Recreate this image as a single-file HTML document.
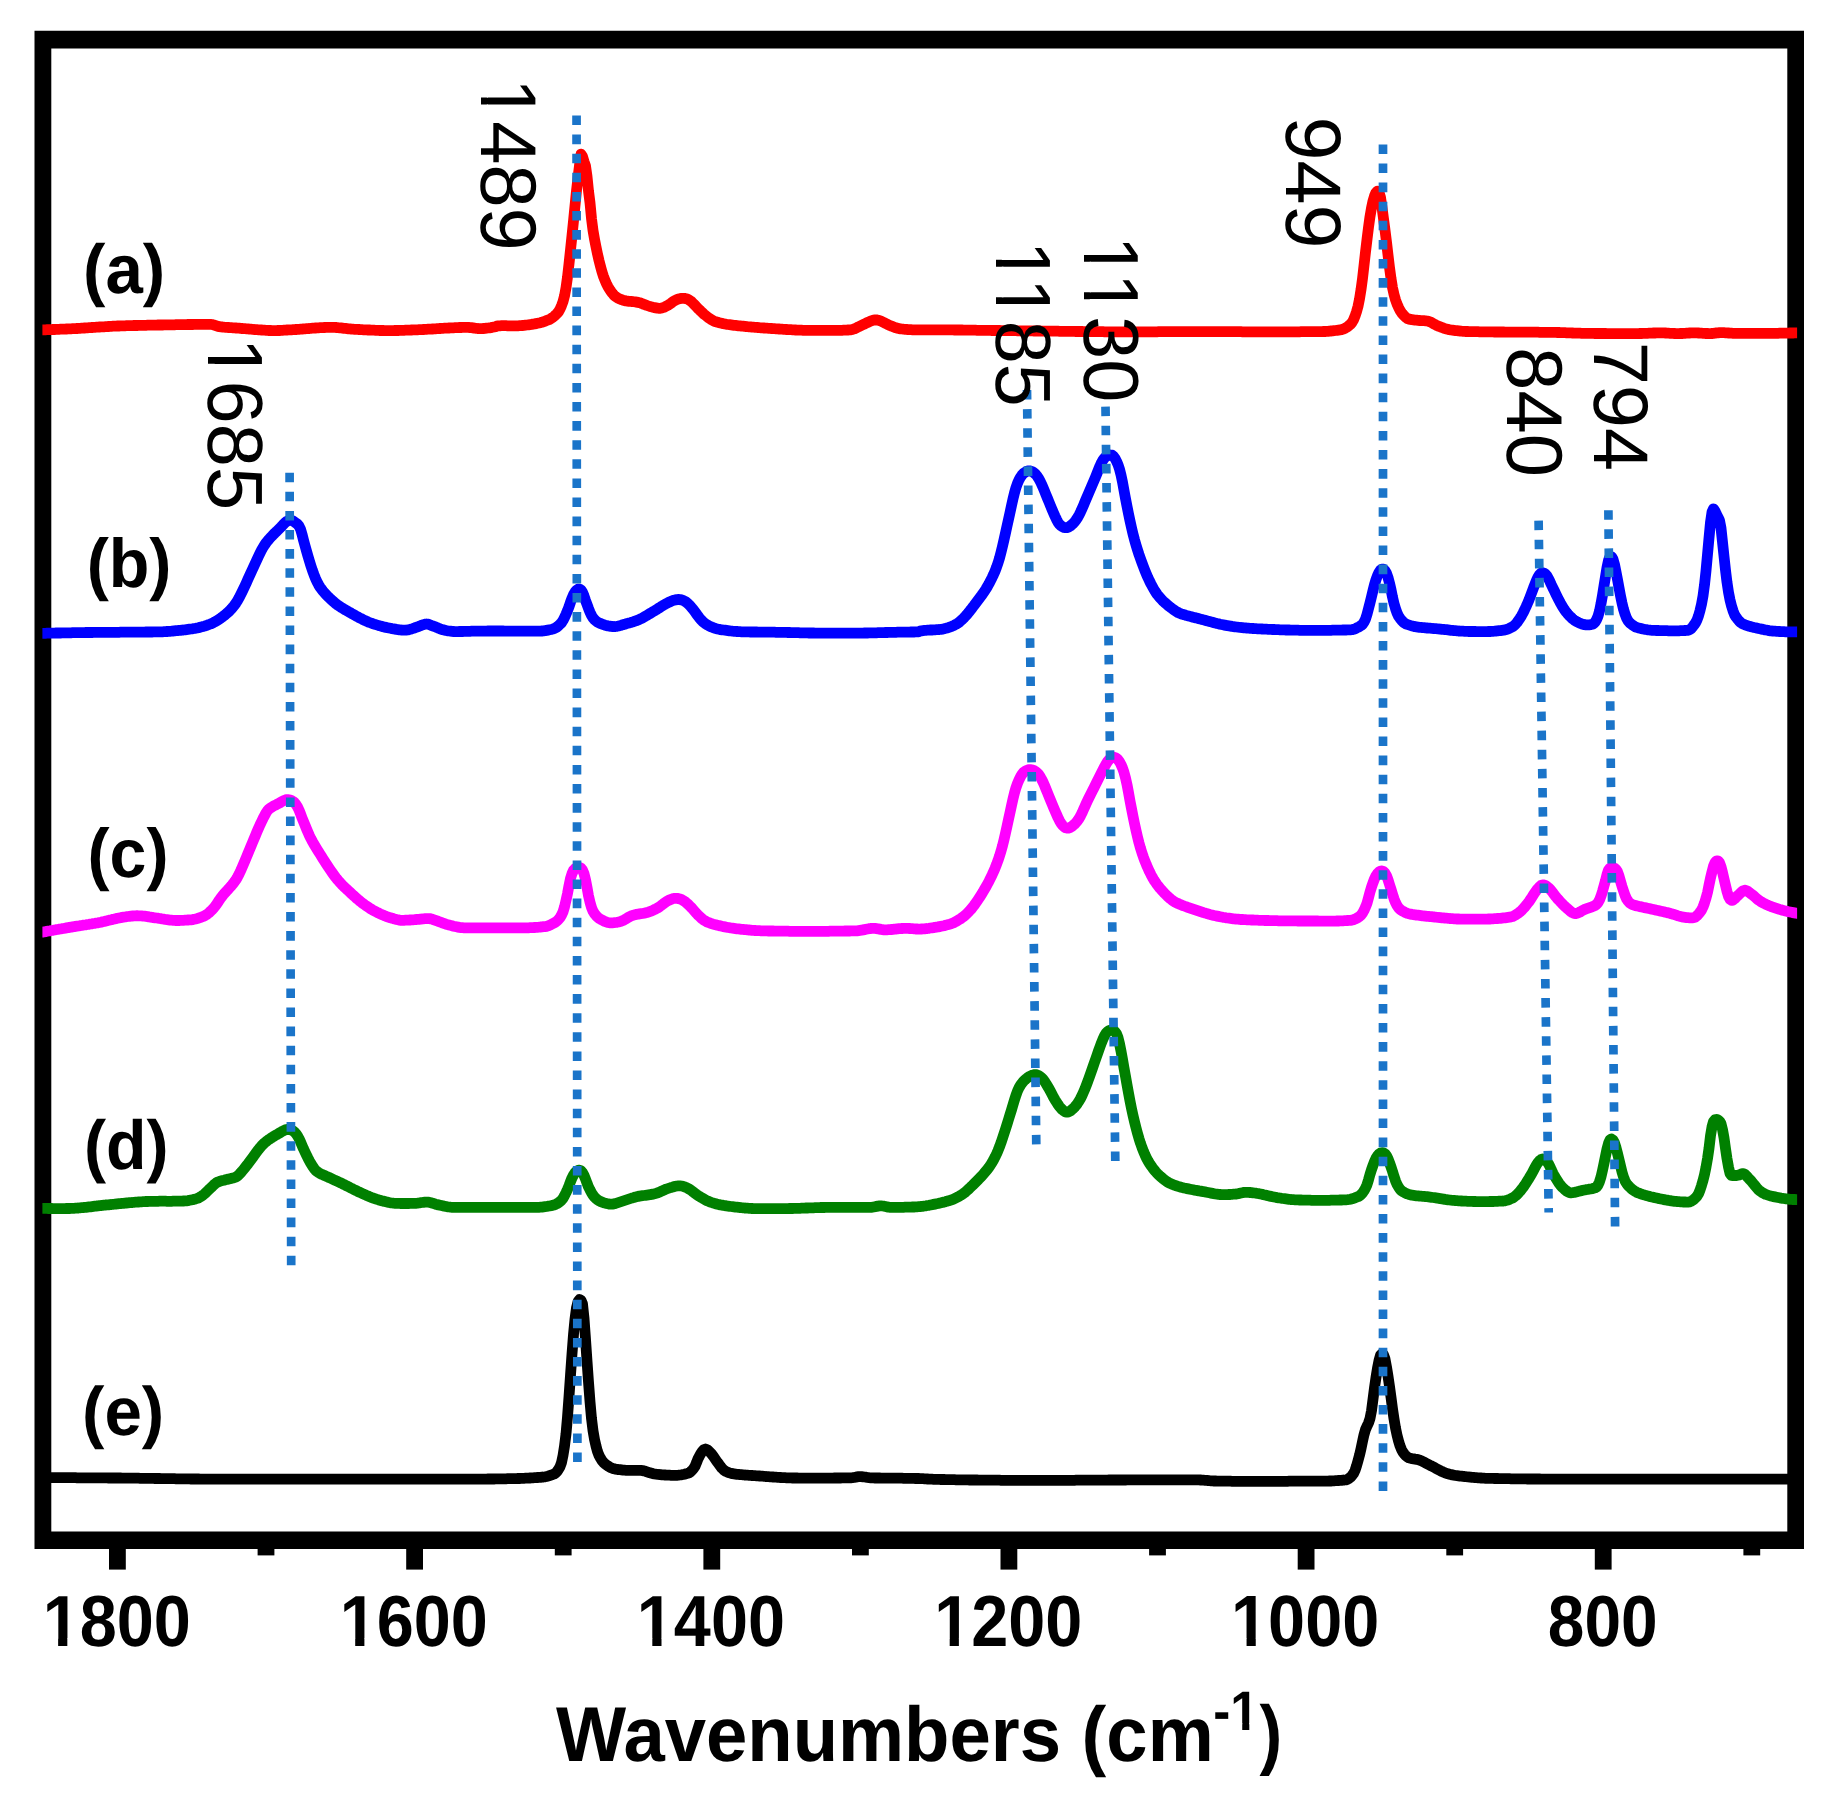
<!DOCTYPE html>
<html lang="en"><head><meta charset="utf-8"><title>Raman spectra</title>
<style>html,body{margin:0;padding:0;background:#fff;}body{width:1837px;height:1808px;overflow:hidden;}svg{display:block;}text{font-family:"Liberation Sans",Arial,Helvetica,sans-serif;fill:#000;}.b{font-weight:bold;}.dot{stroke:#1a74c9;stroke-width:8.7;stroke-dasharray:9.55 9.55;fill:none;}.cv{fill:none;stroke-width:10.8;stroke-linejoin:round;stroke-linecap:butt;}</style></head><body>
<svg width="1837" height="1808" viewBox="0 0 1837 1808">
<rect width="1837" height="1808" fill="#fff"/>
<path fill="#000" fill-rule="evenodd" d="M34.5 30.7H1804.0V1549.0H34.5Z M51.3 48.4V1531.6H1787.3V48.4Z"/>
<rect x="109.0" y="1548" width="16.8" height="21.6" fill="#000"/>
<rect x="257.6" y="1548" width="16.8" height="7.4" fill="#000"/>
<rect x="406.2" y="1548" width="16.8" height="21.6" fill="#000"/>
<rect x="554.8" y="1548" width="16.8" height="7.4" fill="#000"/>
<rect x="703.4" y="1548" width="16.8" height="21.6" fill="#000"/>
<rect x="852.0" y="1548" width="16.8" height="7.4" fill="#000"/>
<rect x="1000.5" y="1548" width="16.8" height="21.6" fill="#000"/>
<rect x="1149.1" y="1548" width="16.8" height="7.4" fill="#000"/>
<rect x="1297.7" y="1548" width="16.8" height="21.6" fill="#000"/>
<rect x="1446.3" y="1548" width="16.8" height="7.4" fill="#000"/>
<rect x="1594.8" y="1548" width="16.8" height="21.6" fill="#000"/>
<rect x="1743.4" y="1548" width="16.8" height="7.4" fill="#000"/>
<clipPath id="cc"><rect x="42.4" y="0" width="1754.7" height="1808"/></clipPath><g clip-path="url(#cc)">
<path class="cv" stroke="#ff0000" d="M36.5 329.8 L42.5 329.8 L44.0 329.8 L45.5 329.8 L47.0 329.7 L48.5 329.7 L50.0 329.6 L51.5 329.6 L53.0 329.5 L54.5 329.5 L56.0 329.4 L57.5 329.4 L59.0 329.3 L60.5 329.2 L62.0 329.2 L63.5 329.1 L65.0 329.1 L66.5 329.0 L68.0 328.9 L69.5 328.9 L71.0 328.8 L72.5 328.7 L74.0 328.7 L75.5 328.6 L77.0 328.5 L78.5 328.4 L80.0 328.3 L81.5 328.2 L83.0 328.1 L84.5 328.0 L86.0 327.9 L87.5 327.8 L89.0 327.7 L90.5 327.6 L92.0 327.5 L93.5 327.4 L95.0 327.3 L96.5 327.2 L98.0 327.1 L99.5 327.0 L101.0 326.9 L102.5 326.8 L104.0 326.8 L105.5 326.7 L107.0 326.6 L108.5 326.5 L110.0 326.4 L111.5 326.3 L113.0 326.2 L114.5 326.2 L116.0 326.1 L117.5 326.0 L119.0 326.0 L120.5 325.9 L122.0 325.9 L123.5 325.8 L125.0 325.8 L126.5 325.7 L128.0 325.7 L129.5 325.6 L131.0 325.6 L132.5 325.6 L134.0 325.5 L135.5 325.5 L137.0 325.5 L138.5 325.4 L140.0 325.4 L141.5 325.4 L143.0 325.3 L144.5 325.3 L146.0 325.3 L147.5 325.2 L149.0 325.2 L150.5 325.2 L152.0 325.2 L153.5 325.1 L155.0 325.1 L156.5 325.1 L158.0 325.0 L159.5 325.0 L161.0 325.0 L162.5 325.0 L164.0 324.9 L165.5 324.9 L167.0 324.9 L168.5 324.9 L170.0 324.8 L171.5 324.8 L173.0 324.8 L174.5 324.8 L176.0 324.7 L177.5 324.7 L179.0 324.7 L180.5 324.7 L182.0 324.6 L183.5 324.6 L185.0 324.6 L186.5 324.6 L188.0 324.5 L189.5 324.5 L191.0 324.5 L192.5 324.5 L194.0 324.4 L195.5 324.4 L197.0 324.4 L198.5 324.4 L200.0 324.4 L201.5 324.4 L203.0 324.4 L204.5 324.3 L206.0 324.3 L207.5 324.3 L209.0 324.3 L210.5 324.3 L212.0 324.5 L213.5 324.9 L215.0 325.4 L216.5 325.9 L218.0 326.4 L219.5 326.7 L221.0 326.9 L222.5 327.0 L224.0 327.2 L225.5 327.3 L227.0 327.4 L228.5 327.5 L230.0 327.6 L231.5 327.7 L233.0 327.8 L234.5 327.9 L236.0 328.0 L237.5 328.1 L239.0 328.2 L240.5 328.4 L242.0 328.5 L243.5 328.6 L245.0 328.7 L246.5 328.8 L248.0 328.9 L249.5 329.1 L251.0 329.2 L252.5 329.3 L254.0 329.5 L255.5 329.6 L257.0 329.7 L258.5 329.8 L260.0 329.9 L261.5 330.0 L263.0 330.1 L264.5 330.2 L266.0 330.3 L267.5 330.4 L269.0 330.5 L270.5 330.5 L272.0 330.6 L273.5 330.6 L275.0 330.6 L276.5 330.6 L278.0 330.5 L279.5 330.5 L281.0 330.4 L282.5 330.3 L284.0 330.2 L285.5 330.1 L287.0 330.0 L288.5 329.9 L290.0 329.9 L291.5 329.8 L293.0 329.7 L294.5 329.6 L296.0 329.5 L297.5 329.4 L299.0 329.3 L300.5 329.2 L302.0 329.1 L303.5 328.9 L305.0 328.8 L306.5 328.7 L308.0 328.6 L309.5 328.5 L311.0 328.3 L312.5 328.2 L314.0 328.1 L315.5 328.0 L317.0 327.9 L318.5 327.8 L320.0 327.7 L321.5 327.6 L323.0 327.6 L324.5 327.5 L326.0 327.4 L327.5 327.4 L329.0 327.4 L330.5 327.3 L332.0 327.3 L333.5 327.4 L335.0 327.4 L336.5 327.5 L338.0 327.7 L339.5 327.8 L341.0 327.9 L342.5 328.1 L344.0 328.3 L345.5 328.4 L347.0 328.6 L348.5 328.8 L350.0 328.9 L351.5 329.1 L353.0 329.2 L354.5 329.3 L356.0 329.4 L357.5 329.4 L359.0 329.5 L360.5 329.6 L362.0 329.7 L363.5 329.8 L365.0 329.8 L366.5 329.9 L368.0 330.0 L369.5 330.0 L371.0 330.1 L372.5 330.2 L374.0 330.2 L375.5 330.3 L377.0 330.4 L378.5 330.4 L380.0 330.5 L381.5 330.5 L383.0 330.5 L384.5 330.6 L386.0 330.6 L387.5 330.6 L389.0 330.6 L390.5 330.6 L392.0 330.6 L393.5 330.6 L395.0 330.5 L396.5 330.5 L398.0 330.5 L399.5 330.4 L401.0 330.4 L402.5 330.3 L404.0 330.3 L405.5 330.2 L407.0 330.2 L408.5 330.1 L410.0 330.1 L411.5 330.0 L413.0 329.9 L414.5 329.9 L416.0 329.8 L417.5 329.8 L419.0 329.7 L420.5 329.6 L422.0 329.6 L423.5 329.5 L425.0 329.4 L426.5 329.3 L428.0 329.2 L429.5 329.2 L431.0 329.1 L432.5 329.0 L434.0 328.9 L435.5 328.8 L437.0 328.7 L438.5 328.6 L440.0 328.5 L441.5 328.4 L443.0 328.3 L444.5 328.2 L446.0 328.2 L447.5 328.1 L449.0 328.0 L450.5 327.9 L452.0 327.8 L453.5 327.8 L455.0 327.7 L456.5 327.6 L458.0 327.6 L459.5 327.5 L461.0 327.5 L462.5 327.4 L464.0 327.4 L465.5 327.3 L467.0 327.3 L468.5 327.4 L470.0 327.6 L471.5 327.7 L473.0 327.9 L474.5 328.2 L476.0 328.3 L477.5 328.5 L479.0 328.6 L480.5 328.6 L482.0 328.6 L483.5 328.5 L485.0 328.4 L486.5 328.2 L488.0 328.0 L489.5 327.8 L491.0 327.6 L492.5 327.3 L494.0 327.0 L495.5 326.7 L497.0 326.1 L498.5 325.8 L500.0 325.8 L501.5 325.7 L503.0 325.7 L504.5 325.7 L506.0 325.7 L507.5 325.8 L509.0 325.8 L510.5 325.8 L512.0 325.9 L513.5 325.9 L515.0 325.9 L516.5 325.9 L518.0 325.8 L519.5 325.7 L521.0 325.6 L522.5 325.5 L524.0 325.4 L525.5 325.2 L527.0 325.0 L528.5 324.8 L530.0 324.6 L531.5 324.4 L533.0 324.1 L534.5 323.9 L536.0 323.6 L537.5 323.3 L539.0 323.0 L540.5 322.7 L542.0 322.2 L543.5 321.8 L545.0 321.2 L546.5 320.6 L548.0 320.0 L549.5 319.4 L551.0 318.6 L552.5 317.6 L554.0 316.4 L555.5 315.0 L557.0 313.5 L558.5 311.7 L560.0 309.1 L561.5 305.7 L563.0 301.7 L564.5 295.9 L566.0 287.8 L567.5 277.0 L569.0 263.8 L570.5 249.9 L572.0 235.6 L573.5 221.0 L575.0 205.7 L576.5 190.7 L578.0 177.9 L579.5 165.4 L581.0 154.1 L582.5 156.4 L584.0 161.5 L585.5 165.7 L587.0 176.3 L588.5 191.0 L590.0 202.8 L591.5 218.6 L593.0 230.4 L594.5 239.1 L596.0 246.8 L597.5 254.0 L599.0 260.5 L600.5 266.4 L602.0 271.9 L603.5 276.5 L605.0 280.4 L606.5 283.8 L608.0 286.7 L609.5 289.2 L611.0 291.4 L612.5 293.4 L614.0 295.2 L615.5 296.6 L617.0 297.6 L618.5 298.4 L620.0 299.1 L621.5 299.7 L623.0 300.2 L624.5 300.6 L626.0 300.9 L627.5 301.1 L629.0 301.3 L630.5 301.4 L632.0 301.5 L633.5 301.7 L635.0 301.8 L636.5 302.1 L638.0 302.4 L639.5 302.7 L641.0 303.2 L642.5 303.8 L644.0 304.4 L645.5 304.9 L647.0 305.5 L648.5 306.0 L650.0 306.5 L651.5 306.9 L653.0 307.3 L654.5 307.6 L656.0 307.9 L657.5 308.2 L659.0 308.3 L660.5 308.3 L662.0 308.0 L663.5 307.5 L665.0 306.8 L666.5 306.0 L668.0 305.2 L669.5 304.2 L671.0 303.2 L672.5 302.0 L674.0 301.0 L675.5 300.2 L677.0 299.6 L678.5 299.0 L680.0 298.6 L681.5 298.4 L683.0 298.3 L684.5 298.4 L686.0 298.7 L687.5 299.2 L689.0 299.9 L690.5 300.9 L692.0 302.2 L693.5 303.7 L695.0 305.3 L696.5 306.9 L698.0 308.5 L699.5 309.9 L701.0 311.4 L702.5 312.8 L704.0 314.2 L705.5 315.4 L707.0 316.6 L708.5 317.8 L710.0 318.8 L711.5 319.8 L713.0 320.6 L714.5 321.3 L716.0 321.8 L717.5 322.2 L719.0 322.7 L720.5 323.0 L722.0 323.4 L723.5 323.7 L725.0 324.0 L726.5 324.3 L728.0 324.5 L729.5 324.7 L731.0 324.9 L732.5 325.1 L734.0 325.3 L735.5 325.4 L737.0 325.6 L738.5 325.8 L740.0 325.9 L741.5 326.1 L743.0 326.2 L744.5 326.4 L746.0 326.5 L747.5 326.7 L749.0 326.8 L750.5 326.9 L752.0 327.1 L753.5 327.2 L755.0 327.3 L756.5 327.4 L758.0 327.5 L759.5 327.7 L761.0 327.8 L762.5 327.9 L764.0 328.0 L765.5 328.1 L767.0 328.2 L768.5 328.3 L770.0 328.4 L771.5 328.5 L773.0 328.6 L774.5 328.7 L776.0 328.8 L777.5 328.9 L779.0 329.0 L780.5 329.1 L782.0 329.2 L783.5 329.3 L785.0 329.4 L786.5 329.5 L788.0 329.6 L789.5 329.7 L791.0 329.7 L792.5 329.8 L794.0 329.9 L795.5 330.0 L797.0 330.1 L798.5 330.1 L800.0 330.2 L801.5 330.2 L803.0 330.3 L804.5 330.3 L806.0 330.3 L807.5 330.4 L809.0 330.4 L810.5 330.4 L812.0 330.4 L813.5 330.4 L815.0 330.4 L816.5 330.4 L818.0 330.4 L819.5 330.4 L821.0 330.4 L822.5 330.4 L824.0 330.4 L825.5 330.4 L827.0 330.4 L828.5 330.3 L830.0 330.3 L831.5 330.3 L833.0 330.3 L834.5 330.3 L836.0 330.3 L837.5 330.3 L839.0 330.3 L840.5 330.3 L842.0 330.3 L843.5 330.2 L845.0 330.2 L846.5 330.1 L848.0 330.0 L849.5 329.9 L851.0 329.8 L852.5 329.5 L854.0 329.0 L855.5 328.3 L857.0 327.6 L858.5 326.8 L860.0 326.1 L861.5 325.4 L863.0 324.7 L864.5 324.0 L866.0 323.2 L867.5 322.5 L869.0 321.8 L870.5 321.1 L872.0 320.6 L873.5 320.1 L875.0 319.9 L876.5 319.9 L878.0 320.2 L879.5 320.7 L881.0 321.2 L882.5 321.9 L884.0 322.6 L885.5 323.4 L887.0 324.1 L888.5 324.9 L890.0 325.6 L891.5 326.2 L893.0 326.7 L894.5 327.3 L896.0 327.8 L897.5 328.2 L899.0 328.6 L900.5 328.8 L902.0 329.0 L903.5 329.2 L905.0 329.3 L906.5 329.4 L908.0 329.6 L909.5 329.7 L911.0 329.7 L912.5 329.8 L914.0 329.8 L915.5 329.8 L917.0 329.8 L918.5 329.8 L920.0 329.8 L921.5 329.8 L923.0 329.8 L924.5 329.8 L926.0 329.8 L927.5 329.8 L929.0 329.8 L930.5 329.8 L932.0 329.8 L933.5 329.8 L935.0 329.8 L936.5 329.8 L938.0 329.8 L939.5 329.8 L941.0 329.8 L942.5 329.9 L944.0 329.9 L945.5 329.9 L947.0 329.9 L948.5 329.9 L950.0 329.9 L951.5 329.9 L953.0 329.9 L954.5 330.0 L956.0 330.0 L957.5 330.0 L959.0 330.0 L960.5 330.0 L962.0 330.0 L963.5 330.1 L965.0 330.1 L966.5 330.1 L968.0 330.1 L969.5 330.2 L971.0 330.2 L972.5 330.2 L974.0 330.2 L975.5 330.2 L977.0 330.3 L978.5 330.3 L980.0 330.3 L981.5 330.3 L983.0 330.3 L984.5 330.4 L986.0 330.4 L987.5 330.4 L989.0 330.4 L990.5 330.4 L992.0 330.5 L993.5 330.5 L995.0 330.5 L996.5 330.5 L998.0 330.5 L999.5 330.5 L1001.0 330.6 L1002.5 330.6 L1004.0 330.6 L1005.5 330.6 L1007.0 330.6 L1008.5 330.7 L1010.0 330.7 L1011.5 330.7 L1013.0 330.7 L1014.5 330.7 L1016.0 330.7 L1017.5 330.8 L1019.0 330.8 L1020.5 330.8 L1022.0 330.8 L1023.5 330.8 L1025.0 330.9 L1026.5 330.9 L1028.0 330.9 L1029.5 330.9 L1031.0 330.9 L1032.5 330.9 L1034.0 331.0 L1035.5 331.0 L1037.0 331.0 L1038.5 331.0 L1040.0 331.0 L1041.5 331.1 L1043.0 331.1 L1044.5 331.1 L1046.0 331.1 L1047.5 331.1 L1049.0 331.1 L1050.5 331.2 L1052.0 331.2 L1053.5 331.2 L1055.0 331.2 L1056.5 331.2 L1058.0 331.2 L1059.5 331.3 L1061.0 331.3 L1062.5 331.3 L1064.0 331.3 L1065.5 331.3 L1067.0 331.4 L1068.5 331.4 L1070.0 331.4 L1071.5 331.4 L1073.0 331.4 L1074.5 331.4 L1076.0 331.5 L1077.5 331.5 L1079.0 331.5 L1080.5 331.5 L1082.0 331.5 L1083.5 331.6 L1085.0 331.6 L1086.5 331.6 L1088.0 331.6 L1089.5 331.6 L1091.0 331.6 L1092.5 331.6 L1094.0 331.7 L1095.5 331.7 L1097.0 331.7 L1098.5 331.7 L1100.0 331.7 L1101.5 331.7 L1103.0 331.7 L1104.5 331.8 L1106.0 331.8 L1107.5 331.8 L1109.0 331.8 L1110.5 331.8 L1112.0 331.8 L1113.5 331.8 L1115.0 331.8 L1116.5 331.8 L1118.0 331.8 L1119.5 331.8 L1121.0 331.8 L1122.5 331.9 L1124.0 331.9 L1125.5 331.9 L1127.0 331.9 L1128.5 331.9 L1130.0 331.9 L1131.5 331.9 L1133.0 331.9 L1134.5 331.9 L1136.0 331.9 L1137.5 331.8 L1139.0 331.8 L1140.5 331.8 L1142.0 331.8 L1143.5 331.8 L1145.0 331.8 L1146.5 331.8 L1148.0 331.8 L1149.5 331.8 L1151.0 331.8 L1152.5 331.8 L1154.0 331.8 L1155.5 331.8 L1157.0 331.8 L1158.5 331.7 L1160.0 331.7 L1161.5 331.7 L1163.0 331.7 L1164.5 331.7 L1166.0 331.7 L1167.5 331.7 L1169.0 331.7 L1170.5 331.7 L1172.0 331.7 L1173.5 331.7 L1175.0 331.7 L1176.5 331.6 L1178.0 331.6 L1179.5 331.6 L1181.0 331.6 L1182.5 331.6 L1184.0 331.6 L1185.5 331.6 L1187.0 331.6 L1188.5 331.6 L1190.0 331.6 L1191.5 331.6 L1193.0 331.6 L1194.5 331.6 L1196.0 331.6 L1197.5 331.6 L1199.0 331.6 L1200.5 331.6 L1202.0 331.6 L1203.5 331.6 L1205.0 331.6 L1206.5 331.6 L1208.0 331.6 L1209.5 331.6 L1211.0 331.6 L1212.5 331.6 L1214.0 331.6 L1215.5 331.6 L1217.0 331.6 L1218.5 331.6 L1220.0 331.7 L1221.5 331.7 L1223.0 331.7 L1224.5 331.7 L1226.0 331.7 L1227.5 331.7 L1229.0 331.7 L1230.5 331.7 L1232.0 331.7 L1233.5 331.7 L1235.0 331.7 L1236.5 331.7 L1238.0 331.7 L1239.5 331.7 L1241.0 331.7 L1242.5 331.8 L1244.0 331.8 L1245.5 331.8 L1247.0 331.8 L1248.5 331.8 L1250.0 331.8 L1251.5 331.8 L1253.0 331.8 L1254.5 331.8 L1256.0 331.8 L1257.5 331.8 L1259.0 331.8 L1260.5 331.8 L1262.0 331.8 L1263.5 331.8 L1265.0 331.8 L1266.5 331.8 L1268.0 331.8 L1269.5 331.8 L1271.0 331.8 L1272.5 331.8 L1274.0 331.8 L1275.5 331.8 L1277.0 331.8 L1278.5 331.8 L1280.0 331.8 L1281.5 331.8 L1283.0 331.8 L1284.5 331.8 L1286.0 331.8 L1287.5 331.8 L1289.0 331.8 L1290.5 331.8 L1292.0 331.8 L1293.5 331.8 L1295.0 331.8 L1296.5 331.8 L1298.0 331.8 L1299.5 331.8 L1301.0 331.7 L1302.5 331.7 L1304.0 331.7 L1305.5 331.7 L1307.0 331.7 L1308.5 331.7 L1310.0 331.7 L1311.5 331.7 L1313.0 331.7 L1314.5 331.6 L1316.0 331.6 L1317.5 331.6 L1319.0 331.6 L1320.5 331.6 L1322.0 331.6 L1323.5 331.5 L1325.0 331.5 L1326.5 331.4 L1328.0 331.3 L1329.5 331.1 L1331.0 331.0 L1332.5 330.9 L1334.0 330.7 L1335.5 330.5 L1337.0 330.3 L1338.5 330.1 L1340.0 329.9 L1341.5 329.7 L1343.0 329.2 L1344.5 328.6 L1346.0 327.7 L1347.5 326.7 L1349.0 325.5 L1350.5 324.3 L1352.0 322.5 L1353.5 319.8 L1355.0 316.2 L1356.5 311.8 L1358.0 306.4 L1359.5 299.0 L1361.0 289.7 L1362.5 278.6 L1364.0 265.5 L1365.5 252.1 L1367.0 239.5 L1368.5 227.4 L1370.0 216.6 L1371.5 207.8 L1373.0 201.0 L1374.5 196.0 L1376.0 192.5 L1377.5 191.2 L1379.0 192.3 L1380.5 197.3 L1382.0 207.3 L1383.5 218.6 L1385.0 230.0 L1386.5 241.9 L1388.0 254.8 L1389.5 267.4 L1391.0 278.4 L1392.5 287.6 L1394.0 294.4 L1395.5 299.8 L1397.0 304.0 L1398.5 307.3 L1400.0 310.3 L1401.5 312.7 L1403.0 314.5 L1404.5 316.1 L1406.0 317.5 L1407.5 318.6 L1409.0 319.1 L1410.5 319.4 L1412.0 319.7 L1413.5 319.9 L1415.0 320.1 L1416.5 320.2 L1418.0 320.4 L1419.5 320.5 L1421.0 320.6 L1422.5 320.6 L1424.0 320.7 L1425.5 320.8 L1427.0 321.0 L1428.5 321.3 L1430.0 321.8 L1431.5 322.6 L1433.0 323.4 L1434.5 324.3 L1436.0 325.1 L1437.5 325.8 L1439.0 326.4 L1440.5 326.9 L1442.0 327.5 L1443.5 328.1 L1445.0 328.6 L1446.5 329.0 L1448.0 329.4 L1449.5 329.7 L1451.0 330.0 L1452.5 330.2 L1454.0 330.4 L1455.5 330.6 L1457.0 330.7 L1458.5 330.9 L1460.0 331.0 L1461.5 331.2 L1463.0 331.3 L1464.5 331.4 L1466.0 331.5 L1467.5 331.5 L1469.0 331.6 L1470.5 331.6 L1472.0 331.6 L1473.5 331.7 L1475.0 331.7 L1476.5 331.7 L1478.0 331.7 L1479.5 331.8 L1481.0 331.8 L1482.5 331.8 L1484.0 331.8 L1485.5 331.8 L1487.0 331.9 L1488.5 331.9 L1490.0 331.9 L1491.5 331.9 L1493.0 331.9 L1494.5 332.0 L1496.0 332.0 L1497.5 332.0 L1499.0 332.0 L1500.5 332.0 L1502.0 332.0 L1503.5 332.0 L1505.0 332.1 L1506.5 332.1 L1508.0 332.1 L1509.5 332.1 L1511.0 332.1 L1512.5 332.1 L1514.0 332.1 L1515.5 332.1 L1517.0 332.1 L1518.5 332.2 L1520.0 332.2 L1521.5 332.2 L1523.0 332.2 L1524.5 332.2 L1526.0 332.2 L1527.5 332.2 L1529.0 332.2 L1530.5 332.2 L1532.0 332.2 L1533.5 332.2 L1535.0 332.2 L1536.5 332.2 L1538.0 332.2 L1539.5 332.3 L1541.0 332.3 L1542.5 332.3 L1544.0 332.3 L1545.5 332.3 L1547.0 332.3 L1548.5 332.3 L1550.0 332.3 L1551.5 332.4 L1553.0 332.4 L1554.5 332.4 L1556.0 332.4 L1557.5 332.5 L1559.0 332.5 L1560.5 332.6 L1562.0 332.6 L1563.5 332.7 L1565.0 332.7 L1566.5 332.8 L1568.0 332.8 L1569.5 332.9 L1571.0 332.9 L1572.5 333.0 L1574.0 333.1 L1575.5 333.1 L1577.0 333.2 L1578.5 333.2 L1580.0 333.2 L1581.5 333.3 L1583.0 333.3 L1584.5 333.3 L1586.0 333.4 L1587.5 333.4 L1589.0 333.4 L1590.5 333.4 L1592.0 333.4 L1593.5 333.4 L1595.0 333.5 L1596.5 333.5 L1598.0 333.5 L1599.5 333.5 L1601.0 333.5 L1602.5 333.5 L1604.0 333.5 L1605.5 333.5 L1607.0 333.6 L1608.5 333.6 L1610.0 333.6 L1611.5 333.6 L1613.0 333.6 L1614.5 333.6 L1616.0 333.6 L1617.5 333.6 L1619.0 333.6 L1620.5 333.6 L1622.0 333.6 L1623.5 333.6 L1625.0 333.6 L1626.5 333.6 L1628.0 333.6 L1629.5 333.6 L1631.0 333.6 L1632.5 333.6 L1634.0 333.6 L1635.5 333.6 L1637.0 333.6 L1638.5 333.6 L1640.0 333.5 L1641.5 333.5 L1643.0 333.4 L1644.5 333.4 L1646.0 333.3 L1647.5 333.3 L1649.0 333.2 L1650.5 333.1 L1652.0 333.1 L1653.5 333.0 L1655.0 333.0 L1656.5 332.9 L1658.0 332.9 L1659.5 332.9 L1661.0 332.8 L1662.5 332.9 L1664.0 332.9 L1665.5 333.0 L1667.0 333.1 L1668.5 333.2 L1670.0 333.3 L1671.5 333.4 L1673.0 333.4 L1674.5 333.5 L1676.0 333.6 L1677.5 333.6 L1679.0 333.6 L1680.5 333.5 L1682.0 333.5 L1683.5 333.4 L1685.0 333.3 L1686.5 333.2 L1688.0 333.1 L1689.5 333.0 L1691.0 332.9 L1692.5 332.9 L1694.0 332.8 L1695.5 332.9 L1697.0 332.9 L1698.5 333.0 L1700.0 333.1 L1701.5 333.2 L1703.0 333.3 L1704.5 333.4 L1706.0 333.5 L1707.5 333.5 L1709.0 333.6 L1710.5 333.6 L1712.0 333.5 L1713.5 333.4 L1715.0 333.2 L1716.5 332.9 L1718.0 332.8 L1719.5 332.6 L1721.0 332.6 L1722.5 332.6 L1724.0 332.7 L1725.5 332.8 L1727.0 332.9 L1728.5 333.0 L1730.0 333.1 L1731.5 333.2 L1733.0 333.3 L1734.5 333.3 L1736.0 333.3 L1737.5 333.4 L1739.0 333.4 L1740.5 333.4 L1742.0 333.4 L1743.5 333.4 L1745.0 333.4 L1746.5 333.4 L1748.0 333.4 L1749.5 333.4 L1751.0 333.4 L1752.5 333.4 L1754.0 333.4 L1755.5 333.4 L1757.0 333.4 L1758.5 333.4 L1760.0 333.4 L1761.5 333.4 L1763.0 333.4 L1764.5 333.4 L1766.0 333.4 L1767.5 333.4 L1769.0 333.3 L1770.5 333.3 L1772.0 333.3 L1773.5 333.3 L1775.0 333.3 L1776.5 333.3 L1778.0 333.3 L1779.5 333.2 L1781.0 333.2 L1782.5 333.2 L1784.0 333.2 L1785.5 333.1 L1787.0 333.1 L1788.5 333.1 L1790.0 333.0 L1791.5 333.0 L1793.0 333.0 L1794.5 332.9 L1796.0 332.9 L1797.0 332.8 L1803.0 332.8"/>
<path class="cv" stroke="#0000ff" d="M36.5 633.3 L42.5 633.3 L44.0 633.3 L45.5 633.3 L47.0 633.2 L48.5 633.2 L50.0 633.2 L51.5 633.1 L53.0 633.1 L54.5 633.1 L56.0 633.0 L57.5 633.0 L59.0 633.0 L60.5 633.0 L62.0 632.9 L63.5 632.9 L65.0 632.9 L66.5 632.8 L68.0 632.8 L69.5 632.8 L71.0 632.8 L72.5 632.7 L74.0 632.7 L75.5 632.7 L77.0 632.7 L78.5 632.6 L80.0 632.6 L81.5 632.6 L83.0 632.6 L84.5 632.6 L86.0 632.5 L87.5 632.5 L89.0 632.5 L90.5 632.5 L92.0 632.5 L93.5 632.4 L95.0 632.4 L96.5 632.4 L98.0 632.4 L99.5 632.4 L101.0 632.4 L102.5 632.4 L104.0 632.3 L105.5 632.3 L107.0 632.3 L108.5 632.3 L110.0 632.3 L111.5 632.3 L113.0 632.3 L114.5 632.3 L116.0 632.3 L117.5 632.3 L119.0 632.3 L120.5 632.2 L122.0 632.2 L123.5 632.2 L125.0 632.2 L126.5 632.2 L128.0 632.2 L129.5 632.2 L131.0 632.2 L132.5 632.2 L134.0 632.2 L135.5 632.1 L137.0 632.1 L138.5 632.1 L140.0 632.1 L141.5 632.1 L143.0 632.1 L144.5 632.1 L146.0 632.0 L147.5 632.0 L149.0 632.0 L150.5 632.0 L152.0 632.0 L153.5 631.9 L155.0 631.9 L156.5 631.9 L158.0 631.9 L159.5 631.8 L161.0 631.8 L162.5 631.8 L164.0 631.7 L165.5 631.6 L167.0 631.5 L168.5 631.4 L170.0 631.3 L171.5 631.2 L173.0 631.0 L174.5 630.9 L176.0 630.7 L177.5 630.6 L179.0 630.4 L180.5 630.3 L182.0 630.1 L183.5 630.0 L185.0 629.8 L186.5 629.6 L188.0 629.4 L189.5 629.2 L191.0 629.0 L192.5 628.8 L194.0 628.5 L195.5 628.3 L197.0 628.0 L198.5 627.7 L200.0 627.3 L201.5 626.9 L203.0 626.5 L204.5 626.1 L206.0 625.6 L207.5 625.1 L209.0 624.5 L210.5 624.0 L212.0 623.3 L213.5 622.6 L215.0 621.8 L216.5 620.9 L218.0 619.9 L219.5 618.9 L221.0 617.9 L222.5 616.8 L224.0 615.7 L225.5 614.5 L227.0 613.2 L228.5 611.9 L230.0 610.4 L231.5 608.8 L233.0 607.0 L234.5 605.1 L236.0 603.0 L237.5 600.6 L239.0 597.9 L240.5 595.0 L242.0 592.0 L243.5 588.9 L245.0 585.7 L246.5 582.4 L248.0 579.1 L249.5 575.8 L251.0 572.5 L252.5 569.3 L254.0 566.0 L255.5 562.8 L257.0 559.5 L258.5 556.3 L260.0 553.2 L261.5 550.2 L263.0 547.5 L264.5 545.1 L266.0 542.9 L267.5 541.0 L269.0 539.2 L270.5 537.5 L272.0 536.0 L273.5 534.4 L275.0 532.9 L276.5 531.5 L278.0 530.0 L279.5 528.5 L281.0 527.0 L282.5 525.4 L284.0 523.8 L285.5 522.3 L287.0 521.2 L288.5 520.4 L290.0 520.1 L291.5 520.3 L293.0 521.0 L294.5 522.0 L296.0 523.1 L297.5 524.2 L299.0 526.0 L300.5 529.1 L302.0 534.2 L303.5 540.1 L305.0 545.6 L306.5 551.0 L308.0 556.2 L309.5 561.3 L311.0 566.1 L312.5 570.6 L314.0 574.7 L315.5 578.4 L317.0 581.7 L318.5 584.6 L320.0 587.1 L321.5 589.2 L323.0 591.1 L324.5 592.9 L326.0 594.5 L327.5 596.1 L329.0 597.5 L330.5 599.0 L332.0 600.4 L333.5 601.7 L335.0 603.0 L336.5 604.2 L338.0 605.3 L339.5 606.3 L341.0 607.3 L342.5 608.2 L344.0 609.1 L345.5 610.0 L347.0 610.8 L348.5 611.7 L350.0 612.5 L351.5 613.4 L353.0 614.2 L354.5 615.1 L356.0 615.9 L357.5 616.7 L359.0 617.6 L360.5 618.3 L362.0 619.1 L363.5 619.9 L365.0 620.6 L366.5 621.2 L368.0 621.9 L369.5 622.5 L371.0 623.0 L372.5 623.6 L374.0 624.1 L375.5 624.5 L377.0 625.0 L378.5 625.5 L380.0 625.9 L381.5 626.3 L383.0 626.7 L384.5 627.1 L386.0 627.4 L387.5 627.7 L389.0 628.0 L390.5 628.3 L392.0 628.6 L393.5 628.8 L395.0 629.1 L396.5 629.4 L398.0 629.6 L399.5 629.8 L401.0 630.0 L402.5 630.1 L404.0 630.1 L405.5 630.1 L407.0 630.0 L408.5 629.8 L410.0 629.4 L411.5 629.0 L413.0 628.5 L414.5 627.9 L416.0 627.3 L417.5 626.8 L419.0 626.3 L420.5 625.7 L422.0 625.1 L423.5 624.6 L425.0 624.2 L426.5 624.0 L428.0 624.2 L429.5 624.7 L431.0 625.3 L432.5 625.8 L434.0 626.4 L435.5 626.9 L437.0 627.6 L438.5 628.2 L440.0 628.8 L441.5 629.3 L443.0 629.8 L444.5 630.1 L446.0 630.5 L447.5 630.8 L449.0 631.0 L450.5 631.2 L452.0 631.4 L453.5 631.5 L455.0 631.6 L456.5 631.6 L458.0 631.6 L459.5 631.5 L461.0 631.5 L462.5 631.5 L464.0 631.4 L465.5 631.4 L467.0 631.4 L468.5 631.3 L470.0 631.3 L471.5 631.2 L473.0 631.2 L474.5 631.2 L476.0 631.1 L477.5 631.1 L479.0 631.1 L480.5 631.1 L482.0 631.1 L483.5 631.1 L485.0 631.1 L486.5 631.1 L488.0 631.0 L489.5 631.0 L491.0 631.0 L492.5 631.0 L494.0 631.0 L495.5 631.0 L497.0 631.0 L498.5 631.0 L500.0 631.0 L501.5 631.0 L503.0 631.0 L504.5 631.1 L506.0 631.1 L507.5 631.1 L509.0 631.1 L510.5 631.1 L512.0 631.1 L513.5 631.1 L515.0 631.1 L516.5 631.1 L518.0 631.1 L519.5 631.1 L521.0 631.1 L522.5 631.1 L524.0 631.1 L525.5 631.1 L527.0 631.1 L528.5 631.1 L530.0 631.1 L531.5 631.1 L533.0 631.1 L534.5 631.1 L536.0 631.1 L537.5 631.1 L539.0 631.1 L540.5 631.1 L542.0 631.0 L543.5 630.9 L545.0 630.7 L546.5 630.4 L548.0 630.1 L549.5 629.8 L551.0 629.5 L552.5 629.1 L554.0 628.6 L555.5 627.9 L557.0 627.0 L558.5 625.8 L560.0 624.3 L561.5 622.7 L563.0 620.4 L564.5 617.5 L566.0 614.2 L567.5 610.6 L569.0 606.7 L570.5 602.2 L572.0 598.1 L573.5 594.7 L575.0 592.0 L576.5 590.2 L578.0 589.2 L579.5 589.1 L581.0 589.9 L582.5 592.2 L584.0 595.9 L585.5 600.3 L587.0 604.3 L588.5 608.4 L590.0 612.2 L591.5 615.4 L593.0 617.8 L594.5 619.7 L596.0 621.0 L597.5 622.1 L599.0 622.8 L600.5 623.5 L602.0 624.2 L603.5 624.7 L605.0 625.2 L606.5 625.6 L608.0 625.9 L609.5 626.1 L611.0 626.4 L612.5 626.5 L614.0 626.6 L615.5 626.5 L617.0 626.3 L618.5 626.0 L620.0 625.6 L621.5 625.2 L623.0 624.7 L624.5 624.3 L626.0 623.8 L627.5 623.4 L629.0 623.0 L630.5 622.6 L632.0 622.1 L633.5 621.7 L635.0 621.2 L636.5 620.7 L638.0 620.1 L639.5 619.4 L641.0 618.7 L642.5 617.9 L644.0 617.1 L645.5 616.2 L647.0 615.3 L648.5 614.4 L650.0 613.5 L651.5 612.6 L653.0 611.7 L654.5 610.8 L656.0 609.9 L657.5 608.9 L659.0 608.0 L660.5 607.1 L662.0 606.1 L663.5 605.2 L665.0 604.3 L666.5 603.5 L668.0 602.7 L669.5 602.0 L671.0 601.3 L672.5 600.7 L674.0 600.2 L675.5 599.9 L677.0 599.6 L678.5 599.5 L680.0 599.6 L681.5 599.9 L683.0 600.4 L684.5 601.1 L686.0 602.0 L687.5 603.2 L689.0 604.6 L690.5 606.3 L692.0 608.1 L693.5 609.8 L695.0 611.9 L696.5 614.0 L698.0 616.1 L699.5 618.1 L701.0 619.7 L702.5 621.3 L704.0 622.6 L705.5 623.8 L707.0 624.8 L708.5 625.6 L710.0 626.3 L711.5 627.0 L713.0 627.6 L714.5 628.1 L716.0 628.6 L717.5 629.0 L719.0 629.3 L720.5 629.6 L722.0 629.8 L723.5 630.0 L725.0 630.2 L726.5 630.4 L728.0 630.6 L729.5 630.8 L731.0 631.0 L732.5 631.2 L734.0 631.3 L735.5 631.4 L737.0 631.5 L738.5 631.6 L740.0 631.7 L741.5 631.8 L743.0 631.8 L744.5 631.9 L746.0 631.9 L747.5 631.9 L749.0 631.9 L750.5 632.0 L752.0 632.0 L753.5 632.0 L755.0 632.0 L756.5 632.0 L758.0 632.1 L759.5 632.1 L761.0 632.1 L762.5 632.1 L764.0 632.1 L765.5 632.1 L767.0 632.1 L768.5 632.2 L770.0 632.2 L771.5 632.2 L773.0 632.2 L774.5 632.2 L776.0 632.3 L777.5 632.3 L779.0 632.3 L780.5 632.3 L782.0 632.4 L783.5 632.4 L785.0 632.4 L786.5 632.4 L788.0 632.5 L789.5 632.5 L791.0 632.6 L792.5 632.6 L794.0 632.6 L795.5 632.7 L797.0 632.7 L798.5 632.7 L800.0 632.8 L801.5 632.8 L803.0 632.8 L804.5 632.9 L806.0 632.9 L807.5 632.9 L809.0 633.0 L810.5 633.0 L812.0 633.0 L813.5 633.0 L815.0 633.1 L816.5 633.1 L818.0 633.1 L819.5 633.1 L821.0 633.1 L822.5 633.1 L824.0 633.1 L825.5 633.1 L827.0 633.1 L828.5 633.1 L830.0 633.2 L831.5 633.2 L833.0 633.2 L834.5 633.2 L836.0 633.2 L837.5 633.2 L839.0 633.2 L840.5 633.2 L842.0 633.2 L843.5 633.2 L845.0 633.2 L846.5 633.2 L848.0 633.2 L849.5 633.2 L851.0 633.2 L852.5 633.1 L854.0 633.1 L855.5 633.1 L857.0 633.1 L858.5 633.1 L860.0 633.1 L861.5 633.1 L863.0 633.1 L864.5 633.0 L866.0 633.0 L867.5 633.0 L869.0 632.9 L870.5 632.9 L872.0 632.9 L873.5 632.8 L875.0 632.8 L876.5 632.8 L878.0 632.7 L879.5 632.7 L881.0 632.6 L882.5 632.6 L884.0 632.6 L885.5 632.5 L887.0 632.5 L888.5 632.4 L890.0 632.4 L891.5 632.4 L893.0 632.3 L894.5 632.3 L896.0 632.3 L897.5 632.2 L899.0 632.2 L900.5 632.2 L902.0 632.2 L903.5 632.2 L905.0 632.1 L906.5 632.1 L908.0 632.1 L909.5 632.1 L911.0 632.0 L912.5 632.0 L914.0 632.0 L915.5 631.9 L917.0 631.9 L918.5 631.8 L920.0 631.1 L921.5 630.8 L923.0 630.6 L924.5 630.4 L926.0 630.3 L927.5 630.2 L929.0 630.1 L930.5 630.0 L932.0 630.0 L933.5 629.9 L935.0 629.8 L936.5 629.7 L938.0 629.6 L939.5 629.5 L941.0 629.3 L942.5 629.1 L944.0 628.8 L945.5 628.4 L947.0 628.0 L948.5 627.6 L950.0 627.0 L951.5 626.4 L953.0 625.8 L954.5 625.1 L956.0 624.3 L957.5 623.4 L959.0 622.3 L960.5 621.0 L962.0 619.7 L963.5 618.2 L965.0 616.6 L966.5 615.0 L968.0 613.2 L969.5 611.3 L971.0 609.4 L972.5 607.4 L974.0 605.5 L975.5 603.5 L977.0 601.5 L978.5 599.5 L980.0 597.5 L981.5 595.5 L983.0 593.4 L984.5 591.2 L986.0 588.9 L987.5 586.4 L989.0 583.7 L990.5 580.8 L992.0 577.8 L993.5 574.6 L995.0 571.2 L996.5 567.3 L998.0 563.0 L999.5 558.1 L1001.0 552.4 L1002.5 546.2 L1004.0 539.7 L1005.5 533.0 L1007.0 526.2 L1008.5 519.4 L1010.0 512.6 L1011.5 505.6 L1013.0 498.9 L1014.5 492.7 L1016.0 487.5 L1017.5 483.3 L1019.0 479.9 L1020.5 477.2 L1022.0 475.0 L1023.5 473.4 L1025.0 472.3 L1026.5 471.4 L1028.0 470.9 L1029.5 470.8 L1031.0 471.2 L1032.5 471.8 L1034.0 472.8 L1035.5 474.1 L1037.0 475.9 L1038.5 478.2 L1040.0 480.9 L1041.5 484.0 L1043.0 487.4 L1044.5 491.0 L1046.0 494.7 L1047.5 498.4 L1049.0 502.0 L1050.5 505.7 L1052.0 509.3 L1053.5 512.8 L1055.0 516.2 L1056.5 519.4 L1058.0 522.3 L1059.5 524.4 L1061.0 525.8 L1062.5 526.8 L1064.0 527.4 L1065.5 527.7 L1067.0 527.6 L1068.5 527.1 L1070.0 526.2 L1071.5 525.0 L1073.0 523.7 L1074.5 522.0 L1076.0 520.0 L1077.5 517.7 L1079.0 515.1 L1080.5 512.1 L1082.0 508.8 L1083.5 505.3 L1085.0 501.7 L1086.5 498.1 L1088.0 494.6 L1089.5 491.1 L1091.0 487.6 L1092.5 484.1 L1094.0 480.6 L1095.5 477.1 L1097.0 473.4 L1098.5 469.6 L1100.0 465.9 L1101.5 462.6 L1103.0 460.0 L1104.5 458.0 L1106.0 456.7 L1107.5 455.8 L1109.0 455.2 L1110.5 455.0 L1112.0 455.2 L1113.5 456.3 L1115.0 458.4 L1116.5 461.2 L1118.0 464.6 L1119.5 469.2 L1121.0 475.0 L1122.5 482.1 L1124.0 490.4 L1125.5 498.5 L1127.0 506.2 L1128.5 513.7 L1130.0 520.9 L1131.5 527.6 L1133.0 533.9 L1134.5 539.7 L1136.0 544.9 L1137.5 549.8 L1139.0 554.5 L1140.5 558.8 L1142.0 562.9 L1143.5 566.9 L1145.0 570.7 L1146.5 574.3 L1148.0 577.8 L1149.5 581.0 L1151.0 584.0 L1152.5 586.8 L1154.0 589.5 L1155.5 591.9 L1157.0 594.1 L1158.5 596.0 L1160.0 597.8 L1161.5 599.4 L1163.0 601.0 L1164.5 602.4 L1166.0 603.7 L1167.5 605.0 L1169.0 606.2 L1170.5 607.4 L1172.0 608.5 L1173.5 609.6 L1175.0 610.7 L1176.5 611.6 L1178.0 612.5 L1179.5 613.2 L1181.0 613.8 L1182.5 614.3 L1184.0 614.7 L1185.5 615.2 L1187.0 615.6 L1188.5 616.0 L1190.0 616.4 L1191.5 616.8 L1193.0 617.2 L1194.5 617.6 L1196.0 617.9 L1197.5 618.3 L1199.0 618.7 L1200.5 619.1 L1202.0 619.5 L1203.5 619.9 L1205.0 620.3 L1206.5 620.7 L1208.0 621.1 L1209.5 621.5 L1211.0 621.9 L1212.5 622.3 L1214.0 622.7 L1215.5 623.1 L1217.0 623.5 L1218.5 623.8 L1220.0 624.2 L1221.5 624.5 L1223.0 624.8 L1224.5 625.1 L1226.0 625.4 L1227.5 625.7 L1229.0 625.9 L1230.5 626.1 L1232.0 626.4 L1233.5 626.6 L1235.0 626.8 L1236.5 627.0 L1238.0 627.2 L1239.5 627.3 L1241.0 627.5 L1242.5 627.6 L1244.0 627.8 L1245.5 627.9 L1247.0 628.1 L1248.5 628.2 L1250.0 628.3 L1251.5 628.4 L1253.0 628.5 L1254.5 628.6 L1256.0 628.7 L1257.5 628.8 L1259.0 628.9 L1260.5 628.9 L1262.0 629.0 L1263.5 629.1 L1265.0 629.2 L1266.5 629.2 L1268.0 629.3 L1269.5 629.4 L1271.0 629.4 L1272.5 629.5 L1274.0 629.5 L1275.5 629.6 L1277.0 629.7 L1278.5 629.7 L1280.0 629.8 L1281.5 629.8 L1283.0 629.9 L1284.5 629.9 L1286.0 630.0 L1287.5 630.0 L1289.0 630.0 L1290.5 630.1 L1292.0 630.1 L1293.5 630.2 L1295.0 630.2 L1296.5 630.2 L1298.0 630.2 L1299.5 630.3 L1301.0 630.3 L1302.5 630.3 L1304.0 630.3 L1305.5 630.4 L1307.0 630.4 L1308.5 630.4 L1310.0 630.4 L1311.5 630.4 L1313.0 630.4 L1314.5 630.4 L1316.0 630.4 L1317.5 630.4 L1319.0 630.4 L1320.5 630.4 L1322.0 630.4 L1323.5 630.3 L1325.0 630.3 L1326.5 630.3 L1328.0 630.3 L1329.5 630.3 L1331.0 630.3 L1332.5 630.2 L1334.0 630.2 L1335.5 630.2 L1337.0 630.2 L1338.5 630.1 L1340.0 630.1 L1341.5 630.1 L1343.0 630.0 L1344.5 630.0 L1346.0 630.0 L1347.5 629.9 L1349.0 629.9 L1350.5 629.8 L1352.0 629.7 L1353.5 629.3 L1355.0 628.8 L1356.5 628.1 L1358.0 627.3 L1359.5 626.6 L1361.0 625.6 L1362.5 624.3 L1364.0 622.2 L1365.5 619.1 L1367.0 614.4 L1368.5 608.7 L1370.0 602.8 L1371.5 596.8 L1373.0 590.5 L1374.5 584.6 L1376.0 579.6 L1377.5 575.5 L1379.0 572.3 L1380.5 570.2 L1382.0 569.1 L1383.5 569.2 L1385.0 570.6 L1386.5 573.2 L1388.0 577.5 L1389.5 583.1 L1391.0 589.5 L1392.5 597.1 L1394.0 603.5 L1395.5 608.6 L1397.0 612.9 L1398.5 616.1 L1400.0 618.3 L1401.5 620.2 L1403.0 621.8 L1404.5 623.1 L1406.0 623.9 L1407.5 624.5 L1409.0 625.0 L1410.5 625.5 L1412.0 626.0 L1413.5 626.3 L1415.0 626.7 L1416.5 626.9 L1418.0 627.1 L1419.5 627.3 L1421.0 627.4 L1422.5 627.6 L1424.0 627.7 L1425.5 627.9 L1427.0 628.0 L1428.5 628.1 L1430.0 628.2 L1431.5 628.3 L1433.0 628.5 L1434.5 628.6 L1436.0 628.7 L1437.5 628.8 L1439.0 629.0 L1440.5 629.1 L1442.0 629.3 L1443.5 629.4 L1445.0 629.6 L1446.5 629.7 L1448.0 629.9 L1449.5 630.1 L1451.0 630.3 L1452.5 630.4 L1454.0 630.6 L1455.5 630.7 L1457.0 630.8 L1458.5 631.0 L1460.0 631.1 L1461.5 631.2 L1463.0 631.2 L1464.5 631.3 L1466.0 631.4 L1467.5 631.4 L1469.0 631.5 L1470.5 631.5 L1472.0 631.5 L1473.5 631.5 L1475.0 631.5 L1476.5 631.6 L1478.0 631.6 L1479.5 631.6 L1481.0 631.6 L1482.5 631.6 L1484.0 631.6 L1485.5 631.6 L1487.0 631.6 L1488.5 631.5 L1490.0 631.5 L1491.5 631.4 L1493.0 631.3 L1494.5 631.2 L1496.0 631.0 L1497.5 630.9 L1499.0 630.7 L1500.5 630.6 L1502.0 630.4 L1503.5 630.2 L1505.0 629.9 L1506.5 629.5 L1508.0 628.9 L1509.5 628.3 L1511.0 627.5 L1512.5 626.7 L1514.0 625.7 L1515.5 624.2 L1517.0 622.5 L1518.5 620.4 L1520.0 618.2 L1521.5 615.8 L1523.0 613.0 L1524.5 610.0 L1526.0 606.8 L1527.5 603.4 L1529.0 599.8 L1530.5 595.8 L1532.0 591.8 L1533.5 587.8 L1535.0 584.1 L1536.5 580.3 L1538.0 577.0 L1539.5 574.6 L1541.0 573.2 L1542.5 572.7 L1544.0 573.1 L1545.5 574.2 L1547.0 576.0 L1548.5 578.6 L1550.0 581.7 L1551.5 585.0 L1553.0 588.1 L1554.5 591.2 L1556.0 594.3 L1557.5 597.3 L1559.0 600.3 L1560.5 603.1 L1562.0 605.7 L1563.5 608.2 L1565.0 610.4 L1566.5 612.4 L1568.0 614.2 L1569.5 615.9 L1571.0 617.3 L1572.5 618.7 L1574.0 619.9 L1575.5 620.9 L1577.0 621.8 L1578.5 622.6 L1580.0 623.2 L1581.5 623.8 L1583.0 624.3 L1584.5 624.7 L1586.0 624.9 L1587.5 624.9 L1589.0 624.8 L1590.5 624.6 L1592.0 624.3 L1593.5 623.8 L1595.0 622.3 L1596.5 619.7 L1598.0 616.3 L1599.5 611.0 L1601.0 603.7 L1602.5 595.2 L1604.0 585.8 L1605.5 576.5 L1607.0 567.4 L1608.5 560.3 L1610.0 556.7 L1611.5 556.7 L1613.0 559.1 L1614.5 564.4 L1616.0 571.8 L1617.5 579.6 L1619.0 587.8 L1620.5 595.7 L1622.0 602.9 L1623.5 609.2 L1625.0 614.1 L1626.5 617.9 L1628.0 620.8 L1629.5 622.6 L1631.0 623.9 L1632.5 625.1 L1634.0 626.1 L1635.5 626.9 L1637.0 627.5 L1638.5 628.0 L1640.0 628.3 L1641.5 628.6 L1643.0 629.0 L1644.5 629.3 L1646.0 629.5 L1647.5 629.8 L1649.0 630.0 L1650.5 630.2 L1652.0 630.3 L1653.5 630.3 L1655.0 630.4 L1656.5 630.5 L1658.0 630.5 L1659.5 630.6 L1661.0 630.6 L1662.5 630.7 L1664.0 630.7 L1665.5 630.7 L1667.0 630.7 L1668.5 630.8 L1670.0 630.8 L1671.5 630.8 L1673.0 630.8 L1674.5 630.8 L1676.0 630.8 L1677.5 630.8 L1679.0 630.8 L1680.5 630.7 L1682.0 630.7 L1683.5 630.6 L1685.0 630.5 L1686.5 630.4 L1688.0 630.3 L1689.5 629.9 L1691.0 628.7 L1692.5 627.1 L1694.0 625.1 L1695.5 622.9 L1697.0 620.0 L1698.5 615.9 L1700.0 610.6 L1701.5 604.2 L1703.0 596.0 L1704.5 584.8 L1706.0 570.9 L1707.5 554.4 L1709.0 538.0 L1710.5 522.3 L1712.0 512.1 L1713.5 508.8 L1715.0 511.0 L1716.5 514.4 L1718.0 517.2 L1719.5 520.3 L1721.0 528.0 L1722.5 542.1 L1724.0 556.2 L1725.5 570.1 L1727.0 582.3 L1728.5 592.2 L1730.0 599.9 L1731.5 605.8 L1733.0 610.7 L1734.5 614.6 L1736.0 617.1 L1737.5 619.1 L1739.0 620.9 L1740.5 622.4 L1742.0 623.5 L1743.5 624.2 L1745.0 624.8 L1746.5 625.3 L1748.0 625.8 L1749.5 626.3 L1751.0 626.7 L1752.5 627.1 L1754.0 627.5 L1755.5 627.8 L1757.0 628.1 L1758.5 628.5 L1760.0 628.8 L1761.5 629.1 L1763.0 629.4 L1764.5 629.8 L1766.0 630.0 L1767.5 630.3 L1769.0 630.6 L1770.5 630.8 L1772.0 631.0 L1773.5 631.1 L1775.0 631.2 L1776.5 631.3 L1778.0 631.4 L1779.5 631.5 L1781.0 631.6 L1782.5 631.7 L1784.0 631.7 L1785.5 631.8 L1787.0 631.8 L1788.5 631.9 L1790.0 631.9 L1791.5 631.9 L1793.0 631.9 L1794.5 631.9 L1796.0 631.8 L1797.0 631.8 L1803.0 631.8"/>
<path class="cv" stroke="#ff00ff" d="M36.5 932.1 L42.5 932.1 L44.0 931.8 L45.5 931.6 L47.0 931.3 L48.5 931.0 L50.0 930.8 L51.5 930.5 L53.0 930.3 L54.5 930.0 L56.0 929.7 L57.5 929.5 L59.0 929.2 L60.5 929.0 L62.0 928.7 L63.5 928.5 L65.0 928.2 L66.5 927.9 L68.0 927.7 L69.5 927.4 L71.0 927.2 L72.5 926.9 L74.0 926.7 L75.5 926.4 L77.0 926.2 L78.5 926.0 L80.0 925.7 L81.5 925.5 L83.0 925.2 L84.5 925.0 L86.0 924.8 L87.5 924.5 L89.0 924.3 L90.5 924.0 L92.0 923.8 L93.5 923.5 L95.0 923.3 L96.5 923.0 L98.0 922.8 L99.5 922.5 L101.0 922.2 L102.5 921.8 L104.0 921.5 L105.5 921.1 L107.0 920.8 L108.5 920.4 L110.0 920.0 L111.5 919.7 L113.0 919.3 L114.5 919.0 L116.0 918.6 L117.5 918.3 L119.0 918.0 L120.5 917.7 L122.0 917.4 L123.5 917.2 L125.0 917.0 L126.5 916.7 L128.0 916.5 L129.5 916.3 L131.0 916.1 L132.5 916.0 L134.0 915.9 L135.5 915.8 L137.0 915.7 L138.5 915.8 L140.0 915.8 L141.5 915.9 L143.0 916.1 L144.5 916.2 L146.0 916.4 L147.5 916.6 L149.0 916.9 L150.5 917.1 L152.0 917.3 L153.5 917.6 L155.0 917.8 L156.5 918.0 L158.0 918.2 L159.5 918.5 L161.0 918.7 L162.5 919.0 L164.0 919.2 L165.5 919.5 L167.0 919.7 L168.5 919.9 L170.0 920.1 L171.5 920.2 L173.0 920.3 L174.5 920.4 L176.0 920.5 L177.5 920.5 L179.0 920.5 L180.5 920.4 L182.0 920.4 L183.5 920.3 L185.0 920.2 L186.5 920.1 L188.0 920.0 L189.5 919.9 L191.0 919.8 L192.5 919.6 L194.0 919.3 L195.5 919.0 L197.0 918.6 L198.5 918.1 L200.0 917.6 L201.5 917.1 L203.0 916.5 L204.5 915.8 L206.0 914.9 L207.5 913.9 L209.0 912.7 L210.5 911.3 L212.0 909.9 L213.5 908.2 L215.0 906.4 L216.5 904.3 L218.0 902.1 L219.5 899.8 L221.0 897.7 L222.5 895.7 L224.0 893.9 L225.5 892.2 L227.0 890.6 L228.5 889.0 L230.0 887.3 L231.5 885.6 L233.0 883.8 L234.5 881.8 L236.0 879.6 L237.5 877.1 L239.0 874.2 L240.5 871.0 L242.0 867.6 L243.5 864.1 L245.0 860.6 L246.5 857.0 L248.0 853.4 L249.5 849.7 L251.0 846.1 L252.5 842.5 L254.0 838.9 L255.5 835.3 L257.0 831.7 L258.5 828.3 L260.0 824.9 L261.5 821.7 L263.0 818.6 L264.5 815.7 L266.0 812.9 L267.5 810.6 L269.0 809.0 L270.5 807.9 L272.0 806.9 L273.5 806.1 L275.0 805.3 L276.5 804.6 L278.0 803.8 L279.5 803.0 L281.0 802.1 L282.5 801.3 L284.0 800.5 L285.5 799.9 L287.0 799.6 L288.5 799.6 L290.0 800.0 L291.5 800.6 L293.0 801.4 L294.5 802.7 L296.0 804.5 L297.5 806.9 L299.0 810.0 L300.5 813.8 L302.0 817.8 L303.5 821.6 L305.0 825.2 L306.5 828.9 L308.0 832.4 L309.5 835.8 L311.0 838.8 L312.5 841.6 L314.0 844.2 L315.5 846.7 L317.0 849.2 L318.5 851.6 L320.0 854.0 L321.5 856.4 L323.0 858.8 L324.5 861.2 L326.0 863.5 L327.5 865.8 L329.0 868.0 L330.5 870.2 L332.0 872.4 L333.5 874.5 L335.0 876.6 L336.5 878.5 L338.0 880.3 L339.5 882.0 L341.0 883.6 L342.5 885.2 L344.0 886.7 L345.5 888.1 L347.0 889.5 L348.5 890.9 L350.0 892.3 L351.5 893.7 L353.0 895.1 L354.5 896.4 L356.0 897.8 L357.5 899.1 L359.0 900.3 L360.5 901.6 L362.0 902.8 L363.5 903.9 L365.0 905.0 L366.5 906.1 L368.0 907.1 L369.5 908.1 L371.0 909.0 L372.5 909.9 L374.0 910.7 L375.5 911.5 L377.0 912.3 L378.5 913.0 L380.0 913.8 L381.5 914.4 L383.0 915.1 L384.5 915.7 L386.0 916.3 L387.5 916.8 L389.0 917.3 L390.5 917.8 L392.0 918.2 L393.5 918.7 L395.0 919.1 L396.5 919.5 L398.0 919.8 L399.5 920.1 L401.0 920.3 L402.5 920.3 L404.0 920.3 L405.5 920.2 L407.0 920.2 L408.5 920.1 L410.0 920.0 L411.5 919.9 L413.0 919.8 L414.5 919.7 L416.0 919.5 L417.5 919.4 L419.0 919.3 L420.5 919.1 L422.0 919.0 L423.5 918.8 L425.0 918.7 L426.5 918.6 L428.0 918.6 L429.5 918.6 L431.0 918.9 L432.5 919.3 L434.0 919.8 L435.5 920.3 L437.0 920.8 L438.5 921.4 L440.0 922.0 L441.5 922.6 L443.0 923.2 L444.5 923.7 L446.0 924.2 L447.5 924.6 L449.0 925.0 L450.5 925.4 L452.0 925.8 L453.5 926.2 L455.0 926.5 L456.5 926.8 L458.0 927.1 L459.5 927.4 L461.0 927.6 L462.5 927.7 L464.0 927.8 L465.5 927.8 L467.0 927.8 L468.5 927.8 L470.0 927.8 L471.5 927.8 L473.0 927.8 L474.5 927.8 L476.0 927.8 L477.5 927.8 L479.0 927.8 L480.5 927.8 L482.0 927.8 L483.5 927.8 L485.0 927.8 L486.5 927.8 L488.0 927.8 L489.5 927.8 L491.0 927.8 L492.5 927.8 L494.0 927.8 L495.5 927.8 L497.0 927.8 L498.5 927.8 L500.0 927.8 L501.5 927.8 L503.0 927.8 L504.5 927.8 L506.0 927.8 L507.5 927.8 L509.0 927.8 L510.5 927.8 L512.0 927.8 L513.5 927.8 L515.0 927.8 L516.5 927.8 L518.0 927.8 L519.5 927.8 L521.0 927.8 L522.5 927.8 L524.0 927.8 L525.5 927.8 L527.0 927.8 L528.5 927.8 L530.0 927.7 L531.5 927.7 L533.0 927.6 L534.5 927.5 L536.0 927.4 L537.5 927.3 L539.0 927.2 L540.5 927.0 L542.0 926.9 L543.5 926.7 L545.0 926.6 L546.5 926.4 L548.0 925.9 L549.5 925.3 L551.0 924.6 L552.5 923.8 L554.0 923.0 L555.5 922.1 L557.0 921.0 L558.5 919.5 L560.0 917.6 L561.5 915.1 L563.0 911.9 L564.5 906.9 L566.0 900.4 L567.5 893.6 L569.0 885.5 L570.5 878.3 L572.0 873.6 L573.5 870.4 L575.0 868.7 L576.5 867.8 L578.0 867.3 L579.5 867.3 L581.0 868.2 L582.5 870.0 L584.0 873.6 L585.5 879.5 L587.0 887.3 L588.5 895.8 L590.0 902.2 L591.5 907.5 L593.0 911.2 L594.5 913.6 L596.0 915.5 L597.5 917.1 L599.0 918.3 L600.5 919.2 L602.0 920.0 L603.5 920.8 L605.0 921.5 L606.5 922.1 L608.0 922.5 L609.5 922.8 L611.0 922.8 L612.5 922.8 L614.0 922.7 L615.5 922.5 L617.0 922.3 L618.5 922.0 L620.0 921.6 L621.5 921.1 L623.0 920.5 L624.5 919.7 L626.0 918.8 L627.5 917.9 L629.0 917.0 L630.5 916.2 L632.0 915.6 L633.5 915.1 L635.0 914.7 L636.5 914.4 L638.0 914.2 L639.5 913.9 L641.0 913.7 L642.5 913.5 L644.0 913.2 L645.5 912.9 L647.0 912.5 L648.5 912.1 L650.0 911.5 L651.5 910.9 L653.0 910.3 L654.5 909.5 L656.0 908.8 L657.5 908.0 L659.0 907.1 L660.5 906.0 L662.0 904.9 L663.5 903.7 L665.0 902.6 L666.5 901.5 L668.0 900.7 L669.5 900.0 L671.0 899.3 L672.5 898.8 L674.0 898.4 L675.5 898.3 L677.0 898.3 L678.5 898.6 L680.0 899.0 L681.5 899.6 L683.0 900.4 L684.5 901.3 L686.0 902.5 L687.5 903.8 L689.0 905.2 L690.5 906.7 L692.0 908.3 L693.5 910.0 L695.0 911.7 L696.5 913.4 L698.0 915.0 L699.5 916.4 L701.0 917.8 L702.5 919.1 L704.0 920.3 L705.5 921.1 L707.0 921.9 L708.5 922.5 L710.0 923.1 L711.5 923.6 L713.0 924.1 L714.5 924.5 L716.0 924.9 L717.5 925.2 L719.0 925.6 L720.5 925.9 L722.0 926.3 L723.5 926.6 L725.0 926.9 L726.5 927.2 L728.0 927.5 L729.5 927.7 L731.0 928.0 L732.5 928.2 L734.0 928.4 L735.5 928.6 L737.0 928.8 L738.5 928.9 L740.0 929.1 L741.5 929.3 L743.0 929.4 L744.5 929.6 L746.0 929.7 L747.5 929.9 L749.0 930.0 L750.5 930.1 L752.0 930.3 L753.5 930.4 L755.0 930.5 L756.5 930.6 L758.0 930.7 L759.5 930.7 L761.0 930.8 L762.5 930.8 L764.0 930.9 L765.5 930.9 L767.0 930.9 L768.5 931.0 L770.0 931.0 L771.5 931.0 L773.0 931.0 L774.5 931.1 L776.0 931.1 L777.5 931.1 L779.0 931.1 L780.5 931.2 L782.0 931.2 L783.5 931.2 L785.0 931.2 L786.5 931.2 L788.0 931.2 L789.5 931.3 L791.0 931.3 L792.5 931.3 L794.0 931.3 L795.5 931.3 L797.0 931.3 L798.5 931.3 L800.0 931.3 L801.5 931.3 L803.0 931.3 L804.5 931.3 L806.0 931.3 L807.5 931.3 L809.0 931.3 L810.5 931.3 L812.0 931.3 L813.5 931.3 L815.0 931.3 L816.5 931.3 L818.0 931.3 L819.5 931.3 L821.0 931.3 L822.5 931.3 L824.0 931.3 L825.5 931.3 L827.0 931.3 L828.5 931.3 L830.0 931.2 L831.5 931.2 L833.0 931.2 L834.5 931.2 L836.0 931.2 L837.5 931.2 L839.0 931.1 L840.5 931.1 L842.0 931.1 L843.5 931.1 L845.0 931.0 L846.5 931.0 L848.0 931.0 L849.5 931.0 L851.0 930.9 L852.5 930.9 L854.0 930.9 L855.5 930.8 L857.0 930.8 L858.5 930.6 L860.0 930.4 L861.5 930.2 L863.0 929.9 L864.5 929.6 L866.0 929.3 L867.5 929.0 L869.0 928.7 L870.5 928.5 L872.0 928.4 L873.5 928.3 L875.0 928.4 L876.5 928.6 L878.0 928.8 L879.5 929.1 L881.0 929.4 L882.5 929.6 L884.0 929.8 L885.5 929.8 L887.0 929.8 L888.5 929.7 L890.0 929.6 L891.5 929.5 L893.0 929.4 L894.5 929.2 L896.0 929.0 L897.5 928.9 L899.0 928.7 L900.5 928.6 L902.0 928.5 L903.5 928.4 L905.0 928.3 L906.5 928.3 L908.0 928.4 L909.5 928.5 L911.0 928.6 L912.5 928.7 L914.0 928.8 L915.5 929.0 L917.0 929.0 L918.5 929.1 L920.0 929.1 L921.5 929.0 L923.0 928.9 L924.5 928.8 L926.0 928.6 L927.5 928.5 L929.0 928.3 L930.5 928.0 L932.0 927.8 L933.5 927.6 L935.0 927.3 L936.5 927.1 L938.0 926.9 L939.5 926.6 L941.0 926.3 L942.5 926.0 L944.0 925.7 L945.5 925.3 L947.0 924.9 L948.5 924.5 L950.0 924.1 L951.5 923.6 L953.0 923.0 L954.5 922.3 L956.0 921.5 L957.5 920.6 L959.0 919.7 L960.5 918.8 L962.0 917.7 L963.5 916.6 L965.0 915.3 L966.5 914.0 L968.0 912.5 L969.5 910.9 L971.0 909.3 L972.5 907.4 L974.0 905.5 L975.5 903.4 L977.0 901.2 L978.5 899.0 L980.0 896.7 L981.5 894.3 L983.0 891.9 L984.5 889.3 L986.0 886.7 L987.5 884.0 L989.0 881.2 L990.5 878.2 L992.0 875.1 L993.5 871.8 L995.0 868.3 L996.5 864.5 L998.0 860.4 L999.5 856.0 L1001.0 851.1 L1002.5 845.7 L1004.0 839.7 L1005.5 833.1 L1007.0 826.3 L1008.5 819.4 L1010.0 812.6 L1011.5 805.6 L1013.0 798.9 L1014.5 792.8 L1016.0 787.6 L1017.5 783.4 L1019.0 779.9 L1020.5 776.8 L1022.0 774.3 L1023.5 772.4 L1025.0 771.3 L1026.5 770.5 L1028.0 769.9 L1029.5 769.6 L1031.0 769.6 L1032.5 770.0 L1034.0 770.6 L1035.5 771.4 L1037.0 772.6 L1038.5 774.2 L1040.0 776.3 L1041.5 779.0 L1043.0 782.0 L1044.5 785.4 L1046.0 789.1 L1047.5 792.8 L1049.0 796.5 L1050.5 800.1 L1052.0 803.8 L1053.5 807.4 L1055.0 810.9 L1056.5 814.3 L1058.0 817.7 L1059.5 820.7 L1061.0 823.2 L1062.5 825.2 L1064.0 826.7 L1065.5 827.7 L1067.0 828.1 L1068.5 828.1 L1070.0 827.6 L1071.5 826.7 L1073.0 825.5 L1074.5 824.2 L1076.0 822.6 L1077.5 820.8 L1079.0 818.6 L1080.5 816.0 L1082.0 812.9 L1083.5 809.6 L1085.0 806.2 L1086.5 802.8 L1088.0 799.7 L1089.5 796.6 L1091.0 793.6 L1092.5 790.6 L1094.0 787.7 L1095.5 784.7 L1097.0 781.6 L1098.5 778.6 L1100.0 775.6 L1101.5 772.6 L1103.0 769.7 L1104.5 766.8 L1106.0 764.1 L1107.5 761.7 L1109.0 759.8 L1110.5 758.3 L1112.0 757.3 L1113.5 757.0 L1115.0 757.5 L1116.5 758.4 L1118.0 759.7 L1119.5 761.7 L1121.0 764.5 L1122.5 768.0 L1124.0 772.3 L1125.5 777.8 L1127.0 784.6 L1128.5 792.6 L1130.0 800.9 L1131.5 808.6 L1133.0 816.2 L1134.5 823.5 L1136.0 830.4 L1137.5 836.9 L1139.0 842.9 L1140.5 848.2 L1142.0 853.0 L1143.5 857.3 L1145.0 861.3 L1146.5 865.0 L1148.0 868.4 L1149.5 871.7 L1151.0 874.7 L1152.5 877.5 L1154.0 880.1 L1155.5 882.3 L1157.0 884.5 L1158.5 886.4 L1160.0 888.3 L1161.5 890.0 L1163.0 891.6 L1164.5 893.2 L1166.0 894.7 L1167.5 896.2 L1169.0 897.6 L1170.5 898.9 L1172.0 900.1 L1173.5 901.2 L1175.0 902.1 L1176.5 902.8 L1178.0 903.5 L1179.5 904.2 L1181.0 904.8 L1182.5 905.4 L1184.0 906.0 L1185.5 906.5 L1187.0 907.1 L1188.5 907.6 L1190.0 908.1 L1191.5 908.6 L1193.0 909.1 L1194.5 909.6 L1196.0 910.1 L1197.5 910.6 L1199.0 911.1 L1200.5 911.6 L1202.0 912.1 L1203.5 912.6 L1205.0 913.0 L1206.5 913.5 L1208.0 913.9 L1209.5 914.4 L1211.0 914.8 L1212.5 915.1 L1214.0 915.5 L1215.5 915.8 L1217.0 916.1 L1218.5 916.4 L1220.0 916.7 L1221.5 917.0 L1223.0 917.3 L1224.5 917.5 L1226.0 917.8 L1227.5 918.0 L1229.0 918.2 L1230.5 918.4 L1232.0 918.6 L1233.5 918.8 L1235.0 919.0 L1236.5 919.1 L1238.0 919.2 L1239.5 919.4 L1241.0 919.5 L1242.5 919.5 L1244.0 919.6 L1245.5 919.7 L1247.0 919.8 L1248.5 919.8 L1250.0 919.9 L1251.5 920.0 L1253.0 920.0 L1254.5 920.1 L1256.0 920.1 L1257.5 920.2 L1259.0 920.3 L1260.5 920.3 L1262.0 920.4 L1263.5 920.4 L1265.0 920.5 L1266.5 920.5 L1268.0 920.5 L1269.5 920.6 L1271.0 920.6 L1272.5 920.6 L1274.0 920.7 L1275.5 920.7 L1277.0 920.7 L1278.5 920.8 L1280.0 920.8 L1281.5 920.8 L1283.0 920.8 L1284.5 920.8 L1286.0 920.9 L1287.5 920.9 L1289.0 920.9 L1290.5 920.9 L1292.0 920.9 L1293.5 920.9 L1295.0 920.9 L1296.5 920.9 L1298.0 921.0 L1299.5 921.0 L1301.0 921.0 L1302.5 921.0 L1304.0 921.0 L1305.5 921.0 L1307.0 921.0 L1308.5 921.0 L1310.0 921.0 L1311.5 921.0 L1313.0 921.0 L1314.5 921.0 L1316.0 921.0 L1317.5 921.0 L1319.0 921.1 L1320.5 921.1 L1322.0 921.1 L1323.5 921.1 L1325.0 921.1 L1326.5 921.1 L1328.0 921.1 L1329.5 921.1 L1331.0 921.1 L1332.5 921.1 L1334.0 921.1 L1335.5 921.1 L1337.0 921.0 L1338.5 921.0 L1340.0 920.9 L1341.5 920.9 L1343.0 920.8 L1344.5 920.7 L1346.0 920.6 L1347.5 920.5 L1349.0 920.4 L1350.5 920.3 L1352.0 920.1 L1353.5 919.7 L1355.0 919.1 L1356.5 918.4 L1358.0 917.5 L1359.5 916.5 L1361.0 915.2 L1362.5 913.1 L1364.0 910.4 L1365.5 907.1 L1367.0 903.2 L1368.5 897.8 L1370.0 892.0 L1371.5 887.1 L1373.0 882.7 L1374.5 878.8 L1376.0 875.7 L1377.5 873.5 L1379.0 872.0 L1380.5 871.1 L1382.0 871.0 L1383.5 871.6 L1385.0 873.1 L1386.5 875.7 L1388.0 879.7 L1389.5 884.5 L1391.0 889.2 L1392.5 894.0 L1394.0 898.7 L1395.5 902.6 L1397.0 905.5 L1398.5 907.7 L1400.0 909.3 L1401.5 910.4 L1403.0 911.3 L1404.5 912.1 L1406.0 912.8 L1407.5 913.4 L1409.0 913.8 L1410.5 914.1 L1412.0 914.4 L1413.5 914.6 L1415.0 914.8 L1416.5 915.1 L1418.0 915.2 L1419.5 915.4 L1421.0 915.6 L1422.5 915.8 L1424.0 916.0 L1425.5 916.1 L1427.0 916.3 L1428.5 916.4 L1430.0 916.6 L1431.5 916.7 L1433.0 916.9 L1434.5 917.0 L1436.0 917.2 L1437.5 917.3 L1439.0 917.5 L1440.5 917.6 L1442.0 917.8 L1443.5 917.9 L1445.0 918.1 L1446.5 918.2 L1448.0 918.3 L1449.5 918.5 L1451.0 918.6 L1452.5 918.7 L1454.0 918.8 L1455.5 918.9 L1457.0 919.0 L1458.5 919.0 L1460.0 919.1 L1461.5 919.1 L1463.0 919.1 L1464.5 919.2 L1466.0 919.2 L1467.5 919.2 L1469.0 919.2 L1470.5 919.2 L1472.0 919.2 L1473.5 919.2 L1475.0 919.2 L1476.5 919.2 L1478.0 919.1 L1479.5 919.1 L1481.0 919.1 L1482.5 919.1 L1484.0 919.1 L1485.5 919.1 L1487.0 919.1 L1488.5 919.0 L1490.0 919.0 L1491.5 918.9 L1493.0 918.8 L1494.5 918.7 L1496.0 918.6 L1497.5 918.5 L1499.0 918.4 L1500.5 918.3 L1502.0 918.1 L1503.5 917.9 L1505.0 917.8 L1506.5 917.6 L1508.0 917.4 L1509.5 917.2 L1511.0 916.9 L1512.5 916.5 L1514.0 915.8 L1515.5 915.0 L1517.0 914.0 L1518.5 913.0 L1520.0 911.8 L1521.5 910.5 L1523.0 908.9 L1524.5 907.3 L1526.0 905.4 L1527.5 903.5 L1529.0 901.6 L1530.5 899.4 L1532.0 897.1 L1533.5 894.7 L1535.0 892.4 L1536.5 890.3 L1538.0 888.5 L1539.5 886.8 L1541.0 885.5 L1542.5 884.8 L1544.0 884.9 L1545.5 885.5 L1547.0 886.5 L1548.5 887.8 L1550.0 889.2 L1551.5 891.0 L1553.0 892.9 L1554.5 894.9 L1556.0 896.9 L1557.5 898.7 L1559.0 900.3 L1560.5 902.0 L1562.0 903.5 L1563.5 905.1 L1565.0 906.5 L1566.5 907.9 L1568.0 909.2 L1569.5 910.5 L1571.0 911.7 L1572.5 912.7 L1574.0 913.4 L1575.5 913.6 L1577.0 913.3 L1578.5 912.7 L1580.0 912.0 L1581.5 911.1 L1583.0 910.3 L1584.5 909.5 L1586.0 908.8 L1587.5 908.3 L1589.0 907.8 L1590.5 907.3 L1592.0 906.8 L1593.5 906.2 L1595.0 905.5 L1596.5 904.5 L1598.0 902.6 L1599.5 899.9 L1601.0 896.1 L1602.5 891.3 L1604.0 885.9 L1605.5 880.5 L1607.0 874.5 L1608.5 870.0 L1610.0 868.1 L1611.5 867.6 L1613.0 867.8 L1614.5 868.2 L1616.0 869.3 L1617.5 871.7 L1619.0 875.9 L1620.5 881.3 L1622.0 886.3 L1623.5 890.9 L1625.0 895.3 L1626.5 898.7 L1628.0 901.0 L1629.5 902.7 L1631.0 903.9 L1632.5 904.6 L1634.0 905.1 L1635.5 905.6 L1637.0 905.9 L1638.5 906.3 L1640.0 906.6 L1641.5 906.9 L1643.0 907.3 L1644.5 907.6 L1646.0 907.9 L1647.5 908.2 L1649.0 908.5 L1650.5 908.9 L1652.0 909.2 L1653.5 909.5 L1655.0 909.9 L1656.5 910.2 L1658.0 910.5 L1659.5 910.9 L1661.0 911.2 L1662.5 911.5 L1664.0 911.9 L1665.5 912.2 L1667.0 912.6 L1668.5 912.9 L1670.0 913.3 L1671.5 913.8 L1673.0 914.2 L1674.5 914.7 L1676.0 915.2 L1677.5 915.7 L1679.0 916.1 L1680.5 916.5 L1682.0 916.9 L1683.5 917.2 L1685.0 917.4 L1686.5 917.6 L1688.0 917.7 L1689.5 917.8 L1691.0 917.8 L1692.5 917.8 L1694.0 917.7 L1695.5 917.0 L1697.0 915.7 L1698.5 914.1 L1700.0 912.3 L1701.5 910.1 L1703.0 907.0 L1704.5 903.0 L1706.0 898.2 L1707.5 892.5 L1709.0 885.2 L1710.5 878.0 L1712.0 871.8 L1713.5 866.2 L1715.0 862.6 L1716.5 860.9 L1718.0 860.9 L1719.5 862.6 L1721.0 866.6 L1722.5 872.4 L1724.0 878.9 L1725.5 885.2 L1727.0 891.5 L1728.5 896.4 L1730.0 899.2 L1731.5 900.4 L1733.0 900.1 L1734.5 898.9 L1736.0 897.4 L1737.5 895.8 L1739.0 894.5 L1740.5 893.0 L1742.0 891.6 L1743.5 890.6 L1745.0 890.2 L1746.5 890.6 L1748.0 891.5 L1749.5 892.7 L1751.0 893.8 L1752.5 894.9 L1754.0 896.2 L1755.5 897.5 L1757.0 898.8 L1758.5 900.1 L1760.0 901.1 L1761.5 902.0 L1763.0 902.9 L1764.5 903.6 L1766.0 904.4 L1767.5 905.1 L1769.0 905.7 L1770.5 906.3 L1772.0 906.9 L1773.5 907.4 L1775.0 907.9 L1776.5 908.4 L1778.0 908.9 L1779.5 909.4 L1781.0 909.8 L1782.5 910.2 L1784.0 910.6 L1785.5 911.0 L1787.0 911.4 L1788.5 911.7 L1790.0 912.0 L1791.5 912.3 L1793.0 912.6 L1794.5 912.9 L1796.0 913.2 L1797.0 913.3 L1803.0 913.3"/>
<path class="cv" stroke="#008000" d="M36.5 1208.3 L42.5 1208.3 L44.0 1208.4 L45.5 1208.4 L47.0 1208.4 L48.5 1208.5 L50.0 1208.5 L51.5 1208.5 L53.0 1208.6 L54.5 1208.6 L56.0 1208.6 L57.5 1208.6 L59.0 1208.6 L60.5 1208.6 L62.0 1208.6 L63.5 1208.6 L65.0 1208.6 L66.5 1208.5 L68.0 1208.5 L69.5 1208.5 L71.0 1208.4 L72.5 1208.3 L74.0 1208.3 L75.5 1208.2 L77.0 1208.1 L78.5 1208.0 L80.0 1207.8 L81.5 1207.7 L83.0 1207.6 L84.5 1207.4 L86.0 1207.3 L87.5 1207.1 L89.0 1206.9 L90.5 1206.8 L92.0 1206.6 L93.5 1206.4 L95.0 1206.2 L96.5 1206.0 L98.0 1205.9 L99.5 1205.7 L101.0 1205.5 L102.5 1205.4 L104.0 1205.2 L105.5 1205.0 L107.0 1204.9 L108.5 1204.8 L110.0 1204.6 L111.5 1204.5 L113.0 1204.3 L114.5 1204.2 L116.0 1204.0 L117.5 1203.9 L119.0 1203.7 L120.5 1203.6 L122.0 1203.4 L123.5 1203.3 L125.0 1203.1 L126.5 1203.0 L128.0 1202.9 L129.5 1202.7 L131.0 1202.6 L132.5 1202.5 L134.0 1202.3 L135.5 1202.2 L137.0 1202.1 L138.5 1202.0 L140.0 1201.9 L141.5 1201.8 L143.0 1201.7 L144.5 1201.6 L146.0 1201.5 L147.5 1201.5 L149.0 1201.4 L150.5 1201.4 L152.0 1201.3 L153.5 1201.3 L155.0 1201.3 L156.5 1201.3 L158.0 1201.3 L159.5 1201.2 L161.0 1201.2 L162.5 1201.2 L164.0 1201.2 L165.5 1201.2 L167.0 1201.3 L168.5 1201.3 L170.0 1201.3 L171.5 1201.3 L173.0 1201.2 L174.5 1201.2 L176.0 1201.2 L177.5 1201.2 L179.0 1201.2 L180.5 1201.1 L182.0 1201.1 L183.5 1201.0 L185.0 1200.9 L186.5 1200.8 L188.0 1200.6 L189.5 1200.3 L191.0 1200.0 L192.5 1199.7 L194.0 1199.4 L195.5 1199.0 L197.0 1198.5 L198.5 1197.9 L200.0 1197.1 L201.5 1196.2 L203.0 1195.1 L204.5 1193.9 L206.0 1192.5 L207.5 1191.0 L209.0 1189.5 L210.5 1188.1 L212.0 1186.7 L213.5 1185.2 L215.0 1183.9 L216.5 1182.7 L218.0 1182.0 L219.5 1181.4 L221.0 1180.9 L222.5 1180.5 L224.0 1180.2 L225.5 1179.8 L227.0 1179.4 L228.5 1179.1 L230.0 1178.7 L231.5 1178.4 L233.0 1178.0 L234.5 1177.6 L236.0 1177.0 L237.5 1176.0 L239.0 1174.6 L240.5 1173.0 L242.0 1171.2 L243.5 1169.5 L245.0 1167.6 L246.5 1165.7 L248.0 1163.8 L249.5 1161.8 L251.0 1159.8 L252.5 1157.8 L254.0 1155.7 L255.5 1153.6 L257.0 1151.6 L258.5 1149.6 L260.0 1147.7 L261.5 1145.9 L263.0 1144.4 L264.5 1142.9 L266.0 1141.7 L267.5 1140.5 L269.0 1139.4 L270.5 1138.4 L272.0 1137.5 L273.5 1136.5 L275.0 1135.6 L276.5 1134.8 L278.0 1133.9 L279.5 1133.0 L281.0 1132.1 L282.5 1131.2 L284.0 1130.4 L285.5 1129.8 L287.0 1129.4 L288.5 1129.4 L290.0 1129.7 L291.5 1130.2 L293.0 1130.9 L294.5 1132.0 L296.0 1133.7 L297.5 1135.8 L299.0 1138.5 L300.5 1141.8 L302.0 1145.3 L303.5 1148.8 L305.0 1152.0 L306.5 1155.1 L308.0 1158.2 L309.5 1161.1 L311.0 1163.7 L312.5 1166.1 L314.0 1168.3 L315.5 1170.2 L317.0 1171.6 L318.5 1172.6 L320.0 1173.4 L321.5 1174.2 L323.0 1174.8 L324.5 1175.5 L326.0 1176.2 L327.5 1176.8 L329.0 1177.5 L330.5 1178.2 L332.0 1178.9 L333.5 1179.6 L335.0 1180.3 L336.5 1180.9 L338.0 1181.6 L339.5 1182.3 L341.0 1183.0 L342.5 1183.8 L344.0 1184.5 L345.5 1185.3 L347.0 1186.0 L348.5 1186.8 L350.0 1187.6 L351.5 1188.3 L353.0 1189.1 L354.5 1189.8 L356.0 1190.5 L357.5 1191.3 L359.0 1192.0 L360.5 1192.7 L362.0 1193.4 L363.5 1194.1 L365.0 1194.7 L366.5 1195.4 L368.0 1196.0 L369.5 1196.7 L371.0 1197.3 L372.5 1197.8 L374.0 1198.4 L375.5 1198.9 L377.0 1199.4 L378.5 1199.8 L380.0 1200.3 L381.5 1200.7 L383.0 1201.1 L384.5 1201.4 L386.0 1201.8 L387.5 1202.1 L389.0 1202.5 L390.5 1202.8 L392.0 1203.0 L393.5 1203.2 L395.0 1203.3 L396.5 1203.4 L398.0 1203.4 L399.5 1203.4 L401.0 1203.5 L402.5 1203.5 L404.0 1203.5 L405.5 1203.5 L407.0 1203.5 L408.5 1203.5 L410.0 1203.4 L411.5 1203.4 L413.0 1203.4 L414.5 1203.4 L416.0 1203.3 L417.5 1203.2 L419.0 1203.0 L420.5 1202.7 L422.0 1202.5 L423.5 1202.3 L425.0 1202.1 L426.5 1202.1 L428.0 1202.2 L429.5 1202.4 L431.0 1202.8 L432.5 1203.2 L434.0 1203.7 L435.5 1204.2 L437.0 1204.6 L438.5 1204.9 L440.0 1205.2 L441.5 1205.5 L443.0 1205.9 L444.5 1206.2 L446.0 1206.5 L447.5 1206.8 L449.0 1207.0 L450.5 1207.2 L452.0 1207.3 L453.5 1207.3 L455.0 1207.3 L456.5 1207.3 L458.0 1207.3 L459.5 1207.3 L461.0 1207.3 L462.5 1207.3 L464.0 1207.3 L465.5 1207.3 L467.0 1207.3 L468.5 1207.3 L470.0 1207.3 L471.5 1207.3 L473.0 1207.3 L474.5 1207.3 L476.0 1207.3 L477.5 1207.3 L479.0 1207.3 L480.5 1207.3 L482.0 1207.3 L483.5 1207.3 L485.0 1207.3 L486.5 1207.3 L488.0 1207.3 L489.5 1207.3 L491.0 1207.3 L492.5 1207.3 L494.0 1207.3 L495.5 1207.3 L497.0 1207.3 L498.5 1207.3 L500.0 1207.3 L501.5 1207.3 L503.0 1207.3 L504.5 1207.3 L506.0 1207.3 L507.5 1207.3 L509.0 1207.3 L510.5 1207.3 L512.0 1207.3 L513.5 1207.3 L515.0 1207.3 L516.5 1207.3 L518.0 1207.3 L519.5 1207.3 L521.0 1207.3 L522.5 1207.3 L524.0 1207.3 L525.5 1207.3 L527.0 1207.3 L528.5 1207.3 L530.0 1207.3 L531.5 1207.3 L533.0 1207.3 L534.5 1207.3 L536.0 1207.3 L537.5 1207.3 L539.0 1207.3 L540.5 1207.2 L542.0 1207.1 L543.5 1206.9 L545.0 1206.7 L546.5 1206.5 L548.0 1206.2 L549.5 1206.0 L551.0 1205.7 L552.5 1205.4 L554.0 1205.0 L555.5 1204.4 L557.0 1203.7 L558.5 1202.7 L560.0 1201.6 L561.5 1200.2 L563.0 1198.3 L564.5 1195.6 L566.0 1192.6 L567.5 1189.4 L569.0 1185.7 L570.5 1181.6 L572.0 1177.9 L573.5 1175.0 L575.0 1172.8 L576.5 1171.2 L578.0 1170.4 L579.5 1170.2 L581.0 1170.8 L582.5 1172.7 L584.0 1175.4 L585.5 1179.0 L587.0 1183.1 L588.5 1186.9 L590.0 1189.9 L591.5 1192.7 L593.0 1195.2 L594.5 1197.1 L596.0 1198.5 L597.5 1199.7 L599.0 1200.7 L600.5 1201.5 L602.0 1202.2 L603.5 1202.7 L605.0 1203.1 L606.5 1203.5 L608.0 1203.8 L609.5 1204.1 L611.0 1204.2 L612.5 1204.1 L614.0 1203.9 L615.5 1203.5 L617.0 1203.0 L618.5 1202.5 L620.0 1202.0 L621.5 1201.5 L623.0 1201.0 L624.5 1200.5 L626.0 1200.0 L627.5 1199.5 L629.0 1199.0 L630.5 1198.5 L632.0 1198.0 L633.5 1197.6 L635.0 1197.1 L636.5 1196.8 L638.0 1196.4 L639.5 1196.1 L641.0 1195.9 L642.5 1195.7 L644.0 1195.5 L645.5 1195.3 L647.0 1195.1 L648.5 1194.9 L650.0 1194.7 L651.5 1194.4 L653.0 1194.1 L654.5 1193.8 L656.0 1193.4 L657.5 1192.9 L659.0 1192.3 L660.5 1191.6 L662.0 1190.9 L663.5 1190.3 L665.0 1189.6 L666.5 1189.0 L668.0 1188.5 L669.5 1188.0 L671.0 1187.5 L672.5 1187.1 L674.0 1186.6 L675.5 1186.3 L677.0 1186.0 L678.5 1185.8 L680.0 1185.8 L681.5 1186.0 L683.0 1186.3 L684.5 1186.8 L686.0 1187.4 L687.5 1188.1 L689.0 1189.0 L690.5 1189.9 L692.0 1191.0 L693.5 1192.2 L695.0 1193.3 L696.5 1194.4 L698.0 1195.4 L699.5 1196.4 L701.0 1197.3 L702.5 1198.2 L704.0 1199.1 L705.5 1199.9 L707.0 1200.7 L708.5 1201.3 L710.0 1201.9 L711.5 1202.5 L713.0 1203.0 L714.5 1203.4 L716.0 1203.9 L717.5 1204.2 L719.0 1204.6 L720.5 1204.9 L722.0 1205.1 L723.5 1205.4 L725.0 1205.6 L726.5 1205.9 L728.0 1206.1 L729.5 1206.3 L731.0 1206.5 L732.5 1206.7 L734.0 1206.9 L735.5 1207.1 L737.0 1207.2 L738.5 1207.4 L740.0 1207.5 L741.5 1207.7 L743.0 1207.8 L744.5 1208.0 L746.0 1208.1 L747.5 1208.2 L749.0 1208.3 L750.5 1208.4 L752.0 1208.5 L753.5 1208.6 L755.0 1208.6 L756.5 1208.6 L758.0 1208.6 L759.5 1208.6 L761.0 1208.6 L762.5 1208.6 L764.0 1208.7 L765.5 1208.7 L767.0 1208.7 L768.5 1208.7 L770.0 1208.7 L771.5 1208.7 L773.0 1208.7 L774.5 1208.7 L776.0 1208.7 L777.5 1208.6 L779.0 1208.6 L780.5 1208.6 L782.0 1208.6 L783.5 1208.6 L785.0 1208.6 L786.5 1208.6 L788.0 1208.6 L789.5 1208.5 L791.0 1208.5 L792.5 1208.5 L794.0 1208.4 L795.5 1208.4 L797.0 1208.3 L798.5 1208.3 L800.0 1208.3 L801.5 1208.2 L803.0 1208.2 L804.5 1208.1 L806.0 1208.0 L807.5 1208.0 L809.0 1207.9 L810.5 1207.9 L812.0 1207.8 L813.5 1207.8 L815.0 1207.7 L816.5 1207.7 L818.0 1207.6 L819.5 1207.6 L821.0 1207.5 L822.5 1207.5 L824.0 1207.5 L825.5 1207.4 L827.0 1207.4 L828.5 1207.4 L830.0 1207.3 L831.5 1207.3 L833.0 1207.3 L834.5 1207.3 L836.0 1207.3 L837.5 1207.3 L839.0 1207.3 L840.5 1207.3 L842.0 1207.3 L843.5 1207.3 L845.0 1207.3 L846.5 1207.3 L848.0 1207.3 L849.5 1207.3 L851.0 1207.3 L852.5 1207.3 L854.0 1207.3 L855.5 1207.3 L857.0 1207.3 L858.5 1207.3 L860.0 1207.4 L861.5 1207.4 L863.0 1207.4 L864.5 1207.4 L866.0 1207.4 L867.5 1207.4 L869.0 1207.3 L870.5 1207.3 L872.0 1207.3 L873.5 1207.0 L875.0 1206.7 L876.5 1206.4 L878.0 1206.1 L879.5 1205.9 L881.0 1205.8 L882.5 1206.0 L884.0 1206.2 L885.5 1206.5 L887.0 1206.9 L888.5 1207.2 L890.0 1207.3 L891.5 1207.3 L893.0 1207.3 L894.5 1207.3 L896.0 1207.3 L897.5 1207.3 L899.0 1207.3 L900.5 1207.3 L902.0 1207.3 L903.5 1207.3 L905.0 1207.2 L906.5 1207.2 L908.0 1207.2 L909.5 1207.1 L911.0 1207.1 L912.5 1207.0 L914.0 1207.0 L915.5 1206.9 L917.0 1206.8 L918.5 1206.7 L920.0 1206.6 L921.5 1206.4 L923.0 1206.3 L924.5 1206.0 L926.0 1205.8 L927.5 1205.5 L929.0 1205.3 L930.5 1205.0 L932.0 1204.7 L933.5 1204.4 L935.0 1204.1 L936.5 1203.8 L938.0 1203.5 L939.5 1203.1 L941.0 1202.8 L942.5 1202.4 L944.0 1202.1 L945.5 1201.7 L947.0 1201.2 L948.5 1200.8 L950.0 1200.3 L951.5 1199.8 L953.0 1199.3 L954.5 1198.6 L956.0 1197.9 L957.5 1197.2 L959.0 1196.3 L960.5 1195.4 L962.0 1194.4 L963.5 1193.4 L965.0 1192.3 L966.5 1191.0 L968.0 1189.7 L969.5 1188.3 L971.0 1186.8 L972.5 1185.4 L974.0 1183.9 L975.5 1182.4 L977.0 1180.9 L978.5 1179.4 L980.0 1177.8 L981.5 1176.2 L983.0 1174.6 L984.5 1172.8 L986.0 1171.0 L987.5 1169.2 L989.0 1167.2 L990.5 1165.0 L992.0 1162.6 L993.5 1160.0 L995.0 1157.1 L996.5 1154.0 L998.0 1150.6 L999.5 1146.8 L1001.0 1142.7 L1002.5 1138.3 L1004.0 1133.7 L1005.5 1129.1 L1007.0 1124.3 L1008.5 1119.5 L1010.0 1114.7 L1011.5 1109.8 L1013.0 1104.8 L1014.5 1099.8 L1016.0 1095.1 L1017.5 1091.0 L1019.0 1087.8 L1020.5 1085.2 L1022.0 1083.1 L1023.5 1081.3 L1025.0 1079.8 L1026.5 1078.5 L1028.0 1077.4 L1029.5 1076.5 L1031.0 1075.7 L1032.5 1075.1 L1034.0 1074.7 L1035.5 1074.6 L1037.0 1074.9 L1038.5 1075.5 L1040.0 1076.5 L1041.5 1077.7 L1043.0 1079.3 L1044.5 1081.3 L1046.0 1083.6 L1047.5 1086.1 L1049.0 1088.6 L1050.5 1091.4 L1052.0 1094.3 L1053.5 1097.2 L1055.0 1099.8 L1056.5 1102.2 L1058.0 1104.5 L1059.5 1106.6 L1061.0 1108.4 L1062.5 1109.9 L1064.0 1111.1 L1065.5 1111.9 L1067.0 1112.2 L1068.5 1111.9 L1070.0 1111.2 L1071.5 1110.0 L1073.0 1108.7 L1074.5 1107.2 L1076.0 1105.4 L1077.5 1103.4 L1079.0 1101.1 L1080.5 1098.5 L1082.0 1095.5 L1083.5 1092.1 L1085.0 1088.6 L1086.5 1084.7 L1088.0 1080.8 L1089.5 1076.6 L1091.0 1072.4 L1092.5 1068.1 L1094.0 1063.7 L1095.5 1059.5 L1097.0 1055.2 L1098.5 1050.9 L1100.0 1046.7 L1101.5 1042.7 L1103.0 1039.0 L1104.5 1035.7 L1106.0 1033.2 L1107.5 1031.6 L1109.0 1030.7 L1110.5 1030.2 L1112.0 1030.1 L1113.5 1030.5 L1115.0 1031.7 L1116.5 1033.7 L1118.0 1037.5 L1119.5 1043.6 L1121.0 1051.1 L1122.5 1059.3 L1124.0 1068.0 L1125.5 1076.3 L1127.0 1084.7 L1128.5 1093.0 L1130.0 1101.0 L1131.5 1108.5 L1133.0 1115.4 L1134.5 1121.8 L1136.0 1127.8 L1137.5 1133.4 L1139.0 1138.6 L1140.5 1143.3 L1142.0 1147.5 L1143.5 1151.4 L1145.0 1154.9 L1146.5 1158.1 L1148.0 1160.9 L1149.5 1163.4 L1151.0 1165.6 L1152.5 1167.7 L1154.0 1169.7 L1155.5 1171.5 L1157.0 1173.2 L1158.5 1174.7 L1160.0 1176.1 L1161.5 1177.4 L1163.0 1178.7 L1164.5 1179.9 L1166.0 1181.0 L1167.5 1182.0 L1169.0 1182.9 L1170.5 1183.6 L1172.0 1184.2 L1173.5 1184.8 L1175.0 1185.3 L1176.5 1185.9 L1178.0 1186.4 L1179.5 1186.8 L1181.0 1187.2 L1182.5 1187.6 L1184.0 1188.0 L1185.5 1188.3 L1187.0 1188.6 L1188.5 1188.9 L1190.0 1189.2 L1191.5 1189.5 L1193.0 1189.8 L1194.5 1190.1 L1196.0 1190.3 L1197.5 1190.6 L1199.0 1190.9 L1200.5 1191.1 L1202.0 1191.4 L1203.5 1191.7 L1205.0 1191.9 L1206.5 1192.2 L1208.0 1192.5 L1209.5 1192.8 L1211.0 1193.1 L1212.5 1193.4 L1214.0 1193.7 L1215.5 1194.0 L1217.0 1194.2 L1218.5 1194.4 L1220.0 1194.5 L1221.5 1194.6 L1223.0 1194.7 L1224.5 1194.7 L1226.0 1194.7 L1227.5 1194.6 L1229.0 1194.5 L1230.5 1194.5 L1232.0 1194.3 L1233.5 1194.2 L1235.0 1194.1 L1236.5 1194.0 L1238.0 1193.7 L1239.5 1193.4 L1241.0 1193.0 L1242.5 1192.7 L1244.0 1192.4 L1245.5 1192.3 L1247.0 1192.3 L1248.5 1192.4 L1250.0 1192.5 L1251.5 1192.6 L1253.0 1192.8 L1254.5 1193.0 L1256.0 1193.2 L1257.5 1193.5 L1259.0 1193.7 L1260.5 1194.0 L1262.0 1194.3 L1263.5 1194.7 L1265.0 1195.0 L1266.5 1195.4 L1268.0 1195.7 L1269.5 1196.1 L1271.0 1196.4 L1272.5 1196.7 L1274.0 1197.0 L1275.5 1197.3 L1277.0 1197.6 L1278.5 1197.8 L1280.0 1198.0 L1281.5 1198.3 L1283.0 1198.5 L1284.5 1198.7 L1286.0 1198.9 L1287.5 1199.1 L1289.0 1199.3 L1290.5 1199.5 L1292.0 1199.6 L1293.5 1199.7 L1295.0 1199.8 L1296.5 1199.9 L1298.0 1199.9 L1299.5 1200.0 L1301.0 1200.0 L1302.5 1200.1 L1304.0 1200.1 L1305.5 1200.1 L1307.0 1200.2 L1308.5 1200.2 L1310.0 1200.2 L1311.5 1200.3 L1313.0 1200.3 L1314.5 1200.3 L1316.0 1200.3 L1317.5 1200.3 L1319.0 1200.3 L1320.5 1200.3 L1322.0 1200.3 L1323.5 1200.3 L1325.0 1200.3 L1326.5 1200.3 L1328.0 1200.3 L1329.5 1200.3 L1331.0 1200.2 L1332.5 1200.2 L1334.0 1200.2 L1335.5 1200.1 L1337.0 1200.1 L1338.5 1200.1 L1340.0 1200.0 L1341.5 1200.0 L1343.0 1199.9 L1344.5 1199.9 L1346.0 1199.8 L1347.5 1199.7 L1349.0 1199.5 L1350.5 1199.2 L1352.0 1198.8 L1353.5 1198.3 L1355.0 1197.8 L1356.5 1197.2 L1358.0 1196.7 L1359.5 1195.9 L1361.0 1194.6 L1362.5 1193.0 L1364.0 1190.8 L1365.5 1188.1 L1367.0 1184.7 L1368.5 1179.8 L1370.0 1174.4 L1371.5 1169.6 L1373.0 1165.4 L1374.5 1161.5 L1376.0 1158.2 L1377.5 1155.8 L1379.0 1154.1 L1380.5 1153.0 L1382.0 1152.7 L1383.5 1152.9 L1385.0 1153.8 L1386.5 1155.6 L1388.0 1158.6 L1389.5 1162.6 L1391.0 1166.9 L1392.5 1171.4 L1394.0 1176.3 L1395.5 1180.8 L1397.0 1184.3 L1398.5 1187.0 L1400.0 1189.2 L1401.5 1190.8 L1403.0 1191.8 L1404.5 1192.6 L1406.0 1193.3 L1407.5 1194.0 L1409.0 1194.5 L1410.5 1194.9 L1412.0 1195.2 L1413.5 1195.4 L1415.0 1195.6 L1416.5 1195.8 L1418.0 1195.9 L1419.5 1196.1 L1421.0 1196.2 L1422.5 1196.3 L1424.0 1196.4 L1425.5 1196.6 L1427.0 1196.7 L1428.5 1196.9 L1430.0 1197.1 L1431.5 1197.3 L1433.0 1197.5 L1434.5 1197.7 L1436.0 1197.9 L1437.5 1198.2 L1439.0 1198.4 L1440.5 1198.7 L1442.0 1198.9 L1443.5 1199.1 L1445.0 1199.4 L1446.5 1199.6 L1448.0 1199.8 L1449.5 1200.0 L1451.0 1200.2 L1452.5 1200.3 L1454.0 1200.4 L1455.5 1200.6 L1457.0 1200.7 L1458.5 1200.8 L1460.0 1200.9 L1461.5 1201.0 L1463.0 1201.1 L1464.5 1201.2 L1466.0 1201.2 L1467.5 1201.3 L1469.0 1201.3 L1470.5 1201.4 L1472.0 1201.4 L1473.5 1201.5 L1475.0 1201.5 L1476.5 1201.6 L1478.0 1201.6 L1479.5 1201.6 L1481.0 1201.6 L1482.5 1201.6 L1484.0 1201.6 L1485.5 1201.6 L1487.0 1201.6 L1488.5 1201.6 L1490.0 1201.5 L1491.5 1201.5 L1493.0 1201.5 L1494.5 1201.4 L1496.0 1201.4 L1497.5 1201.3 L1499.0 1201.2 L1500.5 1201.2 L1502.0 1201.1 L1503.5 1201.0 L1505.0 1200.8 L1506.5 1200.4 L1508.0 1200.0 L1509.5 1199.4 L1511.0 1198.7 L1512.5 1198.0 L1514.0 1197.1 L1515.5 1195.9 L1517.0 1194.6 L1518.5 1193.0 L1520.0 1191.3 L1521.5 1189.4 L1523.0 1187.5 L1524.5 1185.4 L1526.0 1183.1 L1527.5 1180.7 L1529.0 1178.3 L1530.5 1175.7 L1532.0 1173.2 L1533.5 1170.4 L1535.0 1167.5 L1536.5 1164.7 L1538.0 1162.5 L1539.5 1160.8 L1541.0 1159.6 L1542.5 1159.0 L1544.0 1159.2 L1545.5 1160.2 L1547.0 1161.7 L1548.5 1163.8 L1550.0 1166.7 L1551.5 1170.1 L1553.0 1173.3 L1554.5 1176.0 L1556.0 1178.5 L1557.5 1180.9 L1559.0 1183.2 L1560.5 1185.2 L1562.0 1187.0 L1563.5 1188.4 L1565.0 1189.8 L1566.5 1191.0 L1568.0 1191.9 L1569.5 1192.6 L1571.0 1192.8 L1572.5 1192.7 L1574.0 1192.5 L1575.5 1192.1 L1577.0 1191.8 L1578.5 1191.4 L1580.0 1191.0 L1581.5 1190.6 L1583.0 1190.3 L1584.5 1190.0 L1586.0 1189.7 L1587.5 1189.5 L1589.0 1189.2 L1590.5 1189.0 L1592.0 1188.7 L1593.5 1188.3 L1595.0 1187.9 L1596.5 1187.1 L1598.0 1185.0 L1599.5 1181.7 L1601.0 1176.9 L1602.5 1170.4 L1604.0 1163.4 L1605.5 1156.2 L1607.0 1148.9 L1608.5 1143.3 L1610.0 1139.9 L1611.5 1139.0 L1613.0 1140.1 L1614.5 1142.9 L1616.0 1147.5 L1617.5 1153.4 L1619.0 1159.6 L1620.5 1165.8 L1622.0 1172.0 L1623.5 1177.0 L1625.0 1180.8 L1626.5 1183.5 L1628.0 1185.4 L1629.5 1186.9 L1631.0 1188.3 L1632.5 1189.6 L1634.0 1190.7 L1635.5 1191.6 L1637.0 1192.4 L1638.5 1193.0 L1640.0 1193.6 L1641.5 1194.1 L1643.0 1194.6 L1644.5 1195.0 L1646.0 1195.5 L1647.5 1195.9 L1649.0 1196.3 L1650.5 1196.7 L1652.0 1197.0 L1653.5 1197.4 L1655.0 1197.7 L1656.5 1198.0 L1658.0 1198.4 L1659.5 1198.7 L1661.0 1199.0 L1662.5 1199.3 L1664.0 1199.6 L1665.5 1199.9 L1667.0 1200.1 L1668.5 1200.4 L1670.0 1200.6 L1671.5 1200.9 L1673.0 1201.1 L1674.5 1201.3 L1676.0 1201.4 L1677.5 1201.6 L1679.0 1201.7 L1680.5 1201.8 L1682.0 1201.9 L1683.5 1202.0 L1685.0 1202.0 L1686.5 1202.1 L1688.0 1202.1 L1689.5 1201.9 L1691.0 1201.3 L1692.5 1200.4 L1694.0 1199.3 L1695.5 1197.9 L1697.0 1196.3 L1698.5 1193.8 L1700.0 1190.2 L1701.5 1185.6 L1703.0 1180.5 L1704.5 1174.5 L1706.0 1167.1 L1707.5 1158.6 L1709.0 1148.4 L1710.5 1135.6 L1712.0 1126.8 L1713.5 1121.5 L1715.0 1119.8 L1716.5 1119.4 L1718.0 1119.9 L1719.5 1121.1 L1721.0 1123.6 L1722.5 1129.5 L1724.0 1137.7 L1725.5 1148.6 L1727.0 1158.6 L1728.5 1167.0 L1730.0 1173.4 L1731.5 1175.4 L1733.0 1175.6 L1734.5 1175.6 L1736.0 1175.5 L1737.5 1175.4 L1739.0 1175.0 L1740.5 1174.3 L1742.0 1173.6 L1743.5 1173.6 L1745.0 1174.5 L1746.5 1175.9 L1748.0 1177.6 L1749.5 1179.2 L1751.0 1180.8 L1752.5 1182.6 L1754.0 1184.5 L1755.5 1186.3 L1757.0 1188.1 L1758.5 1189.7 L1760.0 1191.1 L1761.5 1192.1 L1763.0 1193.0 L1764.5 1193.8 L1766.0 1194.5 L1767.5 1195.0 L1769.0 1195.5 L1770.5 1196.0 L1772.0 1196.3 L1773.5 1196.6 L1775.0 1196.9 L1776.5 1197.2 L1778.0 1197.5 L1779.5 1197.8 L1781.0 1198.1 L1782.5 1198.3 L1784.0 1198.5 L1785.5 1198.8 L1787.0 1198.9 L1788.5 1199.1 L1790.0 1199.3 L1791.5 1199.4 L1793.0 1199.5 L1794.5 1199.5 L1796.0 1199.6 L1797.0 1199.6 L1803.0 1199.6"/>
<path class="cv" stroke="#000000" d="M36.5 1477.6 L42.5 1477.6 L44.0 1477.6 L45.5 1477.6 L47.0 1477.6 L48.5 1477.6 L50.0 1477.6 L51.5 1477.6 L53.0 1477.6 L54.5 1477.6 L56.0 1477.6 L57.5 1477.7 L59.0 1477.7 L60.5 1477.7 L62.0 1477.7 L63.5 1477.7 L65.0 1477.7 L66.5 1477.7 L68.0 1477.7 L69.5 1477.7 L71.0 1477.7 L72.5 1477.7 L74.0 1477.7 L75.5 1477.7 L77.0 1477.8 L78.5 1477.8 L80.0 1477.8 L81.5 1477.8 L83.0 1477.8 L84.5 1477.8 L86.0 1477.8 L87.5 1477.8 L89.0 1477.8 L90.5 1477.8 L92.0 1477.8 L93.5 1477.9 L95.0 1477.9 L96.5 1477.9 L98.0 1477.9 L99.5 1477.9 L101.0 1477.9 L102.5 1477.9 L104.0 1477.9 L105.5 1477.9 L107.0 1477.9 L108.5 1478.0 L110.0 1478.0 L111.5 1478.0 L113.0 1478.0 L114.5 1478.0 L116.0 1478.0 L117.5 1478.0 L119.0 1478.0 L120.5 1478.0 L122.0 1478.1 L123.5 1478.1 L125.0 1478.1 L126.5 1478.1 L128.0 1478.1 L129.5 1478.1 L131.0 1478.2 L132.5 1478.2 L134.0 1478.2 L135.5 1478.2 L137.0 1478.2 L138.5 1478.2 L140.0 1478.3 L141.5 1478.3 L143.0 1478.3 L144.5 1478.3 L146.0 1478.3 L147.5 1478.4 L149.0 1478.4 L150.5 1478.4 L152.0 1478.4 L153.5 1478.4 L155.0 1478.5 L156.5 1478.5 L158.0 1478.5 L159.5 1478.5 L161.0 1478.6 L162.5 1478.6 L164.0 1478.6 L165.5 1478.6 L167.0 1478.6 L168.5 1478.7 L170.0 1478.7 L171.5 1478.7 L173.0 1478.7 L174.5 1478.7 L176.0 1478.8 L177.5 1478.8 L179.0 1478.8 L180.5 1478.8 L182.0 1478.8 L183.5 1478.9 L185.0 1478.9 L186.5 1478.9 L188.0 1478.9 L189.5 1478.9 L191.0 1479.0 L192.5 1479.0 L194.0 1479.0 L195.5 1479.0 L197.0 1479.0 L198.5 1479.0 L200.0 1479.1 L201.5 1479.1 L203.0 1479.1 L204.5 1479.1 L206.0 1479.1 L207.5 1479.1 L209.0 1479.1 L210.5 1479.1 L212.0 1479.2 L213.5 1479.2 L215.0 1479.2 L216.5 1479.2 L218.0 1479.2 L219.5 1479.2 L221.0 1479.2 L222.5 1479.2 L224.0 1479.2 L225.5 1479.2 L227.0 1479.2 L228.5 1479.2 L230.0 1479.2 L231.5 1479.2 L233.0 1479.2 L234.5 1479.2 L236.0 1479.2 L237.5 1479.2 L239.0 1479.2 L240.5 1479.2 L242.0 1479.2 L243.5 1479.2 L245.0 1479.2 L246.5 1479.2 L248.0 1479.2 L249.5 1479.2 L251.0 1479.2 L252.5 1479.2 L254.0 1479.2 L255.5 1479.2 L257.0 1479.2 L258.5 1479.2 L260.0 1479.2 L261.5 1479.2 L263.0 1479.2 L264.5 1479.2 L266.0 1479.2 L267.5 1479.2 L269.0 1479.2 L270.5 1479.2 L272.0 1479.2 L273.5 1479.2 L275.0 1479.2 L276.5 1479.2 L278.0 1479.2 L279.5 1479.2 L281.0 1479.2 L282.5 1479.2 L284.0 1479.2 L285.5 1479.2 L287.0 1479.2 L288.5 1479.2 L290.0 1479.2 L291.5 1479.2 L293.0 1479.2 L294.5 1479.2 L296.0 1479.2 L297.5 1479.2 L299.0 1479.2 L300.5 1479.2 L302.0 1479.2 L303.5 1479.2 L305.0 1479.2 L306.5 1479.2 L308.0 1479.2 L309.5 1479.2 L311.0 1479.2 L312.5 1479.2 L314.0 1479.2 L315.5 1479.2 L317.0 1479.2 L318.5 1479.2 L320.0 1479.2 L321.5 1479.2 L323.0 1479.2 L324.5 1479.2 L326.0 1479.2 L327.5 1479.2 L329.0 1479.2 L330.5 1479.2 L332.0 1479.2 L333.5 1479.2 L335.0 1479.2 L336.5 1479.2 L338.0 1479.2 L339.5 1479.2 L341.0 1479.2 L342.5 1479.2 L344.0 1479.2 L345.5 1479.2 L347.0 1479.2 L348.5 1479.2 L350.0 1479.2 L351.5 1479.2 L353.0 1479.2 L354.5 1479.2 L356.0 1479.2 L357.5 1479.2 L359.0 1479.2 L360.5 1479.2 L362.0 1479.2 L363.5 1479.2 L365.0 1479.2 L366.5 1479.2 L368.0 1479.2 L369.5 1479.2 L371.0 1479.2 L372.5 1479.2 L374.0 1479.2 L375.5 1479.2 L377.0 1479.2 L378.5 1479.2 L380.0 1479.2 L381.5 1479.2 L383.0 1479.2 L384.5 1479.2 L386.0 1479.2 L387.5 1479.2 L389.0 1479.2 L390.5 1479.2 L392.0 1479.2 L393.5 1479.2 L395.0 1479.2 L396.5 1479.2 L398.0 1479.2 L399.5 1479.2 L401.0 1479.2 L402.5 1479.2 L404.0 1479.2 L405.5 1479.2 L407.0 1479.2 L408.5 1479.2 L410.0 1479.2 L411.5 1479.2 L413.0 1479.2 L414.5 1479.2 L416.0 1479.2 L417.5 1479.2 L419.0 1479.2 L420.5 1479.2 L422.0 1479.2 L423.5 1479.2 L425.0 1479.2 L426.5 1479.2 L428.0 1479.2 L429.5 1479.2 L431.0 1479.2 L432.5 1479.2 L434.0 1479.2 L435.5 1479.2 L437.0 1479.2 L438.5 1479.2 L440.0 1479.2 L441.5 1479.2 L443.0 1479.2 L444.5 1479.2 L446.0 1479.2 L447.5 1479.2 L449.0 1479.2 L450.5 1479.1 L452.0 1479.1 L453.5 1479.1 L455.0 1479.1 L456.5 1479.1 L458.0 1479.1 L459.5 1479.1 L461.0 1479.1 L462.5 1479.1 L464.0 1479.1 L465.5 1479.1 L467.0 1479.1 L468.5 1479.1 L470.0 1479.1 L471.5 1479.1 L473.0 1479.1 L474.5 1479.1 L476.0 1479.1 L477.5 1479.1 L479.0 1479.1 L480.5 1479.1 L482.0 1479.1 L483.5 1479.1 L485.0 1479.1 L486.5 1479.1 L488.0 1479.0 L489.5 1479.0 L491.0 1479.0 L492.5 1479.0 L494.0 1479.0 L495.5 1478.9 L497.0 1478.9 L498.5 1478.9 L500.0 1478.9 L501.5 1478.9 L503.0 1478.8 L504.5 1478.8 L506.0 1478.8 L507.5 1478.7 L509.0 1478.7 L510.5 1478.7 L512.0 1478.7 L513.5 1478.6 L515.0 1478.6 L516.5 1478.6 L518.0 1478.5 L519.5 1478.5 L521.0 1478.4 L522.5 1478.4 L524.0 1478.3 L525.5 1478.2 L527.0 1478.2 L528.5 1478.1 L530.0 1478.0 L531.5 1477.9 L533.0 1477.8 L534.5 1477.7 L536.0 1477.6 L537.5 1477.5 L539.0 1477.4 L540.5 1477.3 L542.0 1477.1 L543.5 1477.0 L545.0 1476.8 L546.5 1476.5 L548.0 1476.1 L549.5 1475.6 L551.0 1475.1 L552.5 1474.6 L554.0 1474.0 L555.5 1473.1 L557.0 1471.5 L558.5 1469.4 L560.0 1466.8 L561.5 1462.6 L563.0 1455.5 L564.5 1446.2 L566.0 1433.9 L567.5 1417.1 L569.0 1396.6 L570.5 1375.2 L572.0 1353.9 L573.5 1334.5 L575.0 1318.9 L576.5 1307.7 L578.0 1301.7 L579.5 1299.6 L581.0 1300.2 L582.5 1303.9 L584.0 1318.0 L585.5 1338.9 L587.0 1360.8 L588.5 1381.9 L590.0 1401.7 L591.5 1418.4 L593.0 1430.6 L594.5 1439.4 L596.0 1446.0 L597.5 1451.6 L599.0 1455.4 L600.5 1458.2 L602.0 1460.6 L603.5 1462.5 L605.0 1463.9 L606.5 1465.0 L608.0 1466.0 L609.5 1466.9 L611.0 1467.7 L612.5 1468.3 L614.0 1468.8 L615.5 1469.1 L617.0 1469.3 L618.5 1469.6 L620.0 1469.7 L621.5 1469.9 L623.0 1470.1 L624.5 1470.2 L626.0 1470.3 L627.5 1470.3 L629.0 1470.3 L630.5 1470.3 L632.0 1470.3 L633.5 1470.3 L635.0 1470.3 L636.5 1470.3 L638.0 1470.3 L639.5 1470.3 L641.0 1470.4 L642.5 1470.6 L644.0 1470.9 L645.5 1471.3 L647.0 1471.8 L648.5 1472.3 L650.0 1472.8 L651.5 1473.2 L653.0 1473.7 L654.5 1474.0 L656.0 1474.2 L657.5 1474.3 L659.0 1474.5 L660.5 1474.6 L662.0 1474.8 L663.5 1474.9 L665.0 1475.0 L666.5 1475.1 L668.0 1475.1 L669.5 1475.2 L671.0 1475.3 L672.5 1475.3 L674.0 1475.3 L675.5 1475.3 L677.0 1475.3 L678.5 1475.2 L680.0 1475.0 L681.5 1474.8 L683.0 1474.5 L684.5 1474.2 L686.0 1473.8 L687.5 1473.4 L689.0 1472.9 L690.5 1471.8 L692.0 1470.4 L693.5 1468.6 L695.0 1466.3 L696.5 1462.7 L698.0 1458.8 L699.5 1455.9 L701.0 1453.3 L702.5 1451.1 L704.0 1449.5 L705.5 1449.0 L707.0 1449.5 L708.5 1450.7 L710.0 1452.2 L711.5 1453.9 L713.0 1455.8 L714.5 1458.0 L716.0 1460.2 L717.5 1462.3 L719.0 1464.3 L720.5 1466.4 L722.0 1468.3 L723.5 1469.8 L725.0 1470.9 L726.5 1471.7 L728.0 1472.4 L729.5 1472.9 L731.0 1473.3 L732.5 1473.7 L734.0 1473.9 L735.5 1474.1 L737.0 1474.3 L738.5 1474.4 L740.0 1474.6 L741.5 1474.7 L743.0 1474.8 L744.5 1475.0 L746.0 1475.1 L747.5 1475.2 L749.0 1475.3 L750.5 1475.4 L752.0 1475.5 L753.5 1475.6 L755.0 1475.7 L756.5 1475.8 L758.0 1475.9 L759.5 1476.0 L761.0 1476.1 L762.5 1476.2 L764.0 1476.3 L765.5 1476.5 L767.0 1476.6 L768.5 1476.7 L770.0 1476.8 L771.5 1476.9 L773.0 1477.0 L774.5 1477.1 L776.0 1477.2 L777.5 1477.3 L779.0 1477.4 L780.5 1477.5 L782.0 1477.6 L783.5 1477.7 L785.0 1477.7 L786.5 1477.8 L788.0 1477.8 L789.5 1477.9 L791.0 1477.9 L792.5 1478.0 L794.0 1478.0 L795.5 1478.0 L797.0 1478.0 L798.5 1478.1 L800.0 1478.1 L801.5 1478.1 L803.0 1478.1 L804.5 1478.1 L806.0 1478.1 L807.5 1478.2 L809.0 1478.2 L810.5 1478.2 L812.0 1478.2 L813.5 1478.2 L815.0 1478.2 L816.5 1478.2 L818.0 1478.2 L819.5 1478.2 L821.0 1478.2 L822.5 1478.1 L824.0 1478.1 L825.5 1478.1 L827.0 1478.1 L828.5 1478.1 L830.0 1478.1 L831.5 1478.1 L833.0 1478.1 L834.5 1478.0 L836.0 1478.0 L837.5 1478.0 L839.0 1478.0 L840.5 1478.0 L842.0 1477.9 L843.5 1477.9 L845.0 1477.9 L846.5 1477.9 L848.0 1477.9 L849.5 1477.9 L851.0 1477.8 L852.5 1477.7 L854.0 1477.5 L855.5 1477.2 L857.0 1476.9 L858.5 1476.7 L860.0 1476.6 L861.5 1476.6 L863.0 1476.8 L864.5 1477.0 L866.0 1477.2 L867.5 1477.5 L869.0 1477.7 L870.5 1477.8 L872.0 1477.9 L873.5 1477.9 L875.0 1478.0 L876.5 1478.0 L878.0 1478.0 L879.5 1478.0 L881.0 1478.1 L882.5 1478.1 L884.0 1478.1 L885.5 1478.1 L887.0 1478.1 L888.5 1478.1 L890.0 1478.2 L891.5 1478.2 L893.0 1478.2 L894.5 1478.2 L896.0 1478.2 L897.5 1478.2 L899.0 1478.2 L900.5 1478.2 L902.0 1478.2 L903.5 1478.3 L905.0 1478.3 L906.5 1478.3 L908.0 1478.3 L909.5 1478.3 L911.0 1478.4 L912.5 1478.4 L914.0 1478.4 L915.5 1478.5 L917.0 1478.5 L918.5 1478.5 L920.0 1478.6 L921.5 1478.6 L923.0 1478.7 L924.5 1478.8 L926.0 1478.9 L927.5 1479.0 L929.0 1479.1 L930.5 1479.2 L932.0 1479.2 L933.5 1479.3 L935.0 1479.3 L936.5 1479.4 L938.0 1479.4 L939.5 1479.4 L941.0 1479.5 L942.5 1479.5 L944.0 1479.5 L945.5 1479.6 L947.0 1479.6 L948.5 1479.6 L950.0 1479.6 L951.5 1479.7 L953.0 1479.7 L954.5 1479.7 L956.0 1479.8 L957.5 1479.8 L959.0 1479.8 L960.5 1479.8 L962.0 1479.8 L963.5 1479.9 L965.0 1479.9 L966.5 1479.9 L968.0 1479.9 L969.5 1480.0 L971.0 1480.0 L972.5 1480.0 L974.0 1480.0 L975.5 1480.0 L977.0 1480.0 L978.5 1480.1 L980.0 1480.1 L981.5 1480.1 L983.0 1480.1 L984.5 1480.1 L986.0 1480.1 L987.5 1480.2 L989.0 1480.2 L990.5 1480.2 L992.0 1480.2 L993.5 1480.2 L995.0 1480.2 L996.5 1480.2 L998.0 1480.2 L999.5 1480.2 L1001.0 1480.3 L1002.5 1480.3 L1004.0 1480.3 L1005.5 1480.3 L1007.0 1480.3 L1008.5 1480.3 L1010.0 1480.3 L1011.5 1480.3 L1013.0 1480.3 L1014.5 1480.3 L1016.0 1480.3 L1017.5 1480.3 L1019.0 1480.3 L1020.5 1480.3 L1022.0 1480.3 L1023.5 1480.4 L1025.0 1480.4 L1026.5 1480.4 L1028.0 1480.4 L1029.5 1480.4 L1031.0 1480.4 L1032.5 1480.4 L1034.0 1480.4 L1035.5 1480.4 L1037.0 1480.4 L1038.5 1480.4 L1040.0 1480.4 L1041.5 1480.4 L1043.0 1480.4 L1044.5 1480.4 L1046.0 1480.4 L1047.5 1480.4 L1049.0 1480.3 L1050.5 1480.3 L1052.0 1480.3 L1053.5 1480.3 L1055.0 1480.3 L1056.5 1480.3 L1058.0 1480.3 L1059.5 1480.3 L1061.0 1480.3 L1062.5 1480.3 L1064.0 1480.3 L1065.5 1480.3 L1067.0 1480.3 L1068.5 1480.3 L1070.0 1480.3 L1071.5 1480.3 L1073.0 1480.3 L1074.5 1480.3 L1076.0 1480.2 L1077.5 1480.2 L1079.0 1480.2 L1080.5 1480.2 L1082.0 1480.2 L1083.5 1480.2 L1085.0 1480.2 L1086.5 1480.2 L1088.0 1480.2 L1089.5 1480.2 L1091.0 1480.2 L1092.5 1480.2 L1094.0 1480.1 L1095.5 1480.1 L1097.0 1480.1 L1098.5 1480.1 L1100.0 1480.1 L1101.5 1480.1 L1103.0 1480.1 L1104.5 1480.1 L1106.0 1480.1 L1107.5 1480.1 L1109.0 1480.0 L1110.5 1480.0 L1112.0 1480.0 L1113.5 1480.0 L1115.0 1480.0 L1116.5 1480.0 L1118.0 1480.0 L1119.5 1480.0 L1121.0 1480.0 L1122.5 1480.0 L1124.0 1480.0 L1125.5 1480.0 L1127.0 1479.9 L1128.5 1479.9 L1130.0 1479.9 L1131.5 1479.9 L1133.0 1479.9 L1134.5 1479.9 L1136.0 1479.9 L1137.5 1479.9 L1139.0 1479.9 L1140.5 1479.9 L1142.0 1479.9 L1143.5 1479.9 L1145.0 1479.9 L1146.5 1479.8 L1148.0 1479.8 L1149.5 1479.8 L1151.0 1479.8 L1152.5 1479.8 L1154.0 1479.8 L1155.5 1479.8 L1157.0 1479.8 L1158.5 1479.8 L1160.0 1479.8 L1161.5 1479.8 L1163.0 1479.8 L1164.5 1479.8 L1166.0 1479.8 L1167.5 1479.8 L1169.0 1479.8 L1170.5 1479.8 L1172.0 1479.8 L1173.5 1479.8 L1175.0 1479.8 L1176.5 1479.8 L1178.0 1479.8 L1179.5 1479.8 L1181.0 1479.8 L1182.5 1479.8 L1184.0 1479.8 L1185.5 1479.8 L1187.0 1479.8 L1188.5 1479.8 L1190.0 1479.8 L1191.5 1479.8 L1193.0 1479.8 L1194.5 1479.8 L1196.0 1479.8 L1197.5 1479.9 L1199.0 1479.9 L1200.5 1480.0 L1202.0 1480.1 L1203.5 1480.2 L1205.0 1480.3 L1206.5 1480.4 L1208.0 1480.5 L1209.5 1480.7 L1211.0 1480.8 L1212.5 1480.9 L1214.0 1481.0 L1215.5 1481.0 L1217.0 1481.1 L1218.5 1481.1 L1220.0 1481.1 L1221.5 1481.1 L1223.0 1481.2 L1224.5 1481.2 L1226.0 1481.2 L1227.5 1481.2 L1229.0 1481.2 L1230.5 1481.2 L1232.0 1481.3 L1233.5 1481.3 L1235.0 1481.3 L1236.5 1481.3 L1238.0 1481.3 L1239.5 1481.3 L1241.0 1481.3 L1242.5 1481.3 L1244.0 1481.3 L1245.5 1481.3 L1247.0 1481.3 L1248.5 1481.3 L1250.0 1481.3 L1251.5 1481.3 L1253.0 1481.3 L1254.5 1481.3 L1256.0 1481.3 L1257.5 1481.3 L1259.0 1481.3 L1260.5 1481.3 L1262.0 1481.3 L1263.5 1481.3 L1265.0 1481.3 L1266.5 1481.3 L1268.0 1481.3 L1269.5 1481.3 L1271.0 1481.3 L1272.5 1481.3 L1274.0 1481.3 L1275.5 1481.3 L1277.0 1481.3 L1278.5 1481.3 L1280.0 1481.3 L1281.5 1481.3 L1283.0 1481.3 L1284.5 1481.3 L1286.0 1481.3 L1287.5 1481.3 L1289.0 1481.2 L1290.5 1481.2 L1292.0 1481.2 L1293.5 1481.2 L1295.0 1481.2 L1296.5 1481.2 L1298.0 1481.2 L1299.5 1481.2 L1301.0 1481.2 L1302.5 1481.2 L1304.0 1481.2 L1305.5 1481.2 L1307.0 1481.2 L1308.5 1481.2 L1310.0 1481.1 L1311.5 1481.1 L1313.0 1481.1 L1314.5 1481.1 L1316.0 1481.1 L1317.5 1481.1 L1319.0 1481.1 L1320.5 1481.1 L1322.0 1481.1 L1323.5 1481.1 L1325.0 1481.1 L1326.5 1481.1 L1328.0 1481.1 L1329.5 1481.0 L1331.0 1481.0 L1332.5 1480.9 L1334.0 1480.8 L1335.5 1480.7 L1337.0 1480.6 L1338.5 1480.5 L1340.0 1480.4 L1341.5 1480.3 L1343.0 1480.1 L1344.5 1480.0 L1346.0 1479.8 L1347.5 1479.3 L1349.0 1478.5 L1350.5 1477.2 L1352.0 1475.6 L1353.5 1473.6 L1355.0 1470.5 L1356.5 1466.0 L1358.0 1460.8 L1359.5 1455.2 L1361.0 1448.7 L1362.5 1441.5 L1364.0 1434.7 L1365.5 1429.5 L1367.0 1426.1 L1368.5 1423.0 L1370.0 1418.5 L1371.5 1410.7 L1373.0 1399.2 L1374.5 1387.6 L1376.0 1377.4 L1377.5 1368.0 L1379.0 1360.5 L1380.5 1355.2 L1382.0 1353.6 L1383.5 1354.7 L1385.0 1358.9 L1386.5 1366.9 L1388.0 1376.2 L1389.5 1386.3 L1391.0 1397.3 L1392.5 1408.8 L1394.0 1418.9 L1395.5 1427.8 L1397.0 1435.0 L1398.5 1440.9 L1400.0 1445.8 L1401.5 1449.6 L1403.0 1452.2 L1404.5 1454.2 L1406.0 1455.9 L1407.5 1457.1 L1409.0 1457.9 L1410.5 1458.3 L1412.0 1458.6 L1413.5 1458.8 L1415.0 1459.1 L1416.5 1459.3 L1418.0 1459.6 L1419.5 1460.1 L1421.0 1460.7 L1422.5 1461.4 L1424.0 1462.1 L1425.5 1462.9 L1427.0 1463.7 L1428.5 1464.5 L1430.0 1465.3 L1431.5 1466.0 L1433.0 1466.8 L1434.5 1467.6 L1436.0 1468.4 L1437.5 1469.2 L1439.0 1470.0 L1440.5 1470.8 L1442.0 1471.5 L1443.5 1472.2 L1445.0 1472.8 L1446.5 1473.3 L1448.0 1473.8 L1449.5 1474.2 L1451.0 1474.6 L1452.5 1474.9 L1454.0 1475.2 L1455.5 1475.5 L1457.0 1475.7 L1458.5 1475.9 L1460.0 1476.1 L1461.5 1476.2 L1463.0 1476.4 L1464.5 1476.5 L1466.0 1476.7 L1467.5 1476.8 L1469.0 1477.0 L1470.5 1477.1 L1472.0 1477.3 L1473.5 1477.4 L1475.0 1477.6 L1476.5 1477.7 L1478.0 1477.8 L1479.5 1477.9 L1481.0 1478.0 L1482.5 1478.1 L1484.0 1478.2 L1485.5 1478.3 L1487.0 1478.3 L1488.5 1478.4 L1490.0 1478.4 L1491.5 1478.4 L1493.0 1478.4 L1494.5 1478.5 L1496.0 1478.5 L1497.5 1478.5 L1499.0 1478.6 L1500.5 1478.6 L1502.0 1478.6 L1503.5 1478.6 L1505.0 1478.7 L1506.5 1478.7 L1508.0 1478.7 L1509.5 1478.7 L1511.0 1478.8 L1512.5 1478.8 L1514.0 1478.8 L1515.5 1478.8 L1517.0 1478.8 L1518.5 1478.9 L1520.0 1478.9 L1521.5 1478.9 L1523.0 1478.9 L1524.5 1478.9 L1526.0 1478.9 L1527.5 1479.0 L1529.0 1479.0 L1530.5 1479.0 L1532.0 1479.0 L1533.5 1479.0 L1535.0 1479.0 L1536.5 1479.0 L1538.0 1479.0 L1539.5 1479.0 L1541.0 1479.1 L1542.5 1479.1 L1544.0 1479.1 L1545.5 1479.1 L1547.0 1479.1 L1548.5 1479.1 L1550.0 1479.1 L1551.5 1479.1 L1553.0 1479.1 L1554.5 1479.1 L1556.0 1479.1 L1557.5 1479.1 L1559.0 1479.1 L1560.5 1479.1 L1562.0 1479.1 L1563.5 1479.1 L1565.0 1479.1 L1566.5 1479.1 L1568.0 1479.1 L1569.5 1479.1 L1571.0 1479.1 L1572.5 1479.1 L1574.0 1479.1 L1575.5 1479.1 L1577.0 1479.1 L1578.5 1479.1 L1580.0 1479.1 L1581.5 1479.1 L1583.0 1479.1 L1584.5 1479.1 L1586.0 1479.1 L1587.5 1479.1 L1589.0 1479.1 L1590.5 1479.1 L1592.0 1479.1 L1593.5 1479.1 L1595.0 1479.1 L1596.5 1479.1 L1598.0 1479.1 L1599.5 1479.1 L1601.0 1479.1 L1602.5 1479.1 L1604.0 1479.1 L1605.5 1479.1 L1607.0 1479.1 L1608.5 1479.1 L1610.0 1479.1 L1611.5 1479.2 L1613.0 1479.2 L1614.5 1479.2 L1616.0 1479.2 L1617.5 1479.2 L1619.0 1479.2 L1620.5 1479.2 L1622.0 1479.2 L1623.5 1479.2 L1625.0 1479.2 L1626.5 1479.2 L1628.0 1479.2 L1629.5 1479.2 L1631.0 1479.2 L1632.5 1479.2 L1634.0 1479.2 L1635.5 1479.2 L1637.0 1479.2 L1638.5 1479.2 L1640.0 1479.2 L1641.5 1479.2 L1643.0 1479.2 L1644.5 1479.2 L1646.0 1479.2 L1647.5 1479.2 L1649.0 1479.2 L1650.5 1479.2 L1652.0 1479.2 L1653.5 1479.2 L1655.0 1479.2 L1656.5 1479.2 L1658.0 1479.2 L1659.5 1479.2 L1661.0 1479.2 L1662.5 1479.2 L1664.0 1479.2 L1665.5 1479.2 L1667.0 1479.2 L1668.5 1479.2 L1670.0 1479.2 L1671.5 1479.2 L1673.0 1479.2 L1674.5 1479.2 L1676.0 1479.2 L1677.5 1479.2 L1679.0 1479.2 L1680.5 1479.2 L1682.0 1479.2 L1683.5 1479.2 L1685.0 1479.2 L1686.5 1479.2 L1688.0 1479.2 L1689.5 1479.2 L1691.0 1479.2 L1692.5 1479.2 L1694.0 1479.2 L1695.5 1479.2 L1697.0 1479.2 L1698.5 1479.2 L1700.0 1479.2 L1701.5 1479.2 L1703.0 1479.2 L1704.5 1479.2 L1706.0 1479.2 L1707.5 1479.2 L1709.0 1479.2 L1710.5 1479.2 L1712.0 1479.2 L1713.5 1479.2 L1715.0 1479.2 L1716.5 1479.2 L1718.0 1479.2 L1719.5 1479.2 L1721.0 1479.2 L1722.5 1479.2 L1724.0 1479.2 L1725.5 1479.2 L1727.0 1479.2 L1728.5 1479.2 L1730.0 1479.2 L1731.5 1479.2 L1733.0 1479.2 L1734.5 1479.2 L1736.0 1479.2 L1737.5 1479.2 L1739.0 1479.2 L1740.5 1479.2 L1742.0 1479.2 L1743.5 1479.2 L1745.0 1479.2 L1746.5 1479.2 L1748.0 1479.2 L1749.5 1479.2 L1751.0 1479.2 L1752.5 1479.2 L1754.0 1479.2 L1755.5 1479.2 L1757.0 1479.2 L1758.5 1479.2 L1760.0 1479.2 L1761.5 1479.2 L1763.0 1479.2 L1764.5 1479.2 L1766.0 1479.2 L1767.5 1479.2 L1769.0 1479.2 L1770.5 1479.2 L1772.0 1479.2 L1773.5 1479.1 L1775.0 1479.1 L1776.5 1479.1 L1778.0 1479.1 L1779.5 1479.1 L1781.0 1479.1 L1782.5 1479.1 L1784.0 1479.1 L1785.5 1479.1 L1787.0 1479.1 L1788.5 1479.1 L1790.0 1479.1 L1791.5 1479.1 L1793.0 1479.1 L1794.5 1479.1 L1796.0 1479.1 L1797.0 1479.1 L1803.0 1479.1"/>
</g>
<line class="dot" x1="289.6" y1="472.7" x2="291.2" y2="1265.5"/>
<line class="dot" x1="576.55" y1="115.5" x2="577.4" y2="1463.1"/>
<line class="dot" x1="1027.0" y1="390" x2="1036.3" y2="1145.5"/>
<line class="dot" x1="1105.5" y1="406.6" x2="1115.3" y2="1161.2"/>
<line class="dot" x1="1383" y1="144.4" x2="1383" y2="1491.8"/>
<line class="dot" x1="1538.6" y1="520.6" x2="1548.7" y2="1212.5"/>
<line class="dot" x1="1608.4" y1="510.2" x2="1615.1" y2="1226.8"/>
<clipPath id="cr1685" clipPathUnits="userSpaceOnUse"><path clip-rule="evenodd" d="M-78 -94H390V39H-78ZM3.90 -7.02H19.54V1.56H3.90ZM26.48 -7.02H41.34V1.56H26.48Z"/></clipPath><text clip-path="url(#cr1685)" text-rendering="geometricPrecision" transform="translate(207.63,337.45) rotate(90) scale(0.9952,1.0051)" font-size="78">1685</text>
<clipPath id="cr1489" clipPathUnits="userSpaceOnUse"><path clip-rule="evenodd" d="M-78 -94H390V39H-78ZM3.90 -7.02H19.54V1.56H3.90ZM26.48 -7.02H41.34V1.56H26.48Z"/></clipPath><text clip-path="url(#cr1489)" text-rendering="geometricPrecision" transform="translate(480.83,78.08) rotate(90) scale(0.9947,1.0132)" font-size="78">1489</text>
<clipPath id="cr1185" clipPathUnits="userSpaceOnUse"><path clip-rule="evenodd" d="M-78 -94H390V39H-78ZM3.90 -7.02H19.54V1.56H3.90ZM26.48 -7.02H41.34V1.56H26.48ZM41.49 -7.02H57.13V1.56H41.49ZM64.07 -7.02H78.93V1.56H64.07Z"/></clipPath><text clip-path="url(#cr1185)" text-rendering="geometricPrecision" transform="translate(996.42,240.51) rotate(90) scale(0.9910,1.0047)" font-size="78">1185</text>
<clipPath id="cr1130" clipPathUnits="userSpaceOnUse"><path clip-rule="evenodd" d="M-78 -94H390V39H-78ZM3.90 -7.02H19.54V1.56H3.90ZM26.48 -7.02H41.34V1.56H26.48ZM41.49 -7.02H57.13V1.56H41.49ZM64.07 -7.02H78.93V1.56H64.07Z"/></clipPath><text clip-path="url(#cr1130)" text-rendering="geometricPrecision" transform="translate(1083.82,235.47) rotate(90) scale(0.9945,1.0018)" font-size="78">1130</text>
<text text-rendering="geometricPrecision" transform="translate(1285.82,116.57) rotate(90) scale(1.0140,1.0101)" font-size="78">949</text>
<text text-rendering="geometricPrecision" transform="translate(1507.03,347.09) rotate(90) scale(0.9979,1.0161)" font-size="78">840</text>
<text text-rendering="geometricPrecision" transform="translate(1593.80,341.67) rotate(90) scale(0.9941,0.9927)" font-size="78">794</text>
<text class="b" text-rendering="geometricPrecision" transform="translate(83.01,292.70) scale(0.9897,1.0176)" font-size="68">(a)</text>
<text class="b" text-rendering="geometricPrecision" transform="translate(86.63,587.01) scale(0.9775,1.0127)" font-size="68">(b)</text>
<text class="b" text-rendering="geometricPrecision" transform="translate(87.44,877.24) scale(0.9750,1.0141)" font-size="68">(c)</text>
<text class="b" text-rendering="geometricPrecision" transform="translate(84.00,1169.13) scale(0.9748,1.0190)" font-size="68">(d)</text>
<text class="b" text-rendering="geometricPrecision" transform="translate(82.02,1434.72) scale(0.9897,1.0078)" font-size="68">(e)</text>
<clipPath id="ct1800" clipPathUnits="userSpaceOnUse"><path clip-rule="evenodd" d="M-75 -90H375V38H-75ZM3.00 -8.78H17.44V1.50H3.00ZM27.79 -8.78H41.25V1.50H27.79Z"/></clipPath><text class="b" clip-path="url(#ct1800)" text-rendering="geometricPrecision" transform="translate(42.64,1646.47) scale(0.8885,0.9671)" font-size="75">1800</text>
<clipPath id="ct1600" clipPathUnits="userSpaceOnUse"><path clip-rule="evenodd" d="M-75 -90H375V38H-75ZM3.00 -8.78H17.44V1.50H3.00ZM27.79 -8.78H41.25V1.50H27.79Z"/></clipPath><text class="b" clip-path="url(#ct1600)" text-rendering="geometricPrecision" transform="translate(339.72,1646.47) scale(0.8880,0.9671)" font-size="75">1600</text>
<clipPath id="ct1400" clipPathUnits="userSpaceOnUse"><path clip-rule="evenodd" d="M-75 -90H375V38H-75ZM3.00 -8.78H17.44V1.50H3.00ZM27.79 -8.78H41.25V1.50H27.79Z"/></clipPath><text class="b" clip-path="url(#ct1400)" text-rendering="geometricPrecision" transform="translate(636.83,1646.47) scale(0.8878,0.9671)" font-size="75">1400</text>
<clipPath id="ct1200" clipPathUnits="userSpaceOnUse"><path clip-rule="evenodd" d="M-75 -90H375V38H-75ZM3.00 -8.78H17.44V1.50H3.00ZM27.79 -8.78H41.25V1.50H27.79Z"/></clipPath><text class="b" clip-path="url(#ct1200)" text-rendering="geometricPrecision" transform="translate(934.21,1646.47) scale(0.8879,0.9670)" font-size="75">1200</text>
<clipPath id="ct1000" clipPathUnits="userSpaceOnUse"><path clip-rule="evenodd" d="M-75 -90H375V38H-75ZM3.00 -8.78H17.44V1.50H3.00ZM27.79 -8.78H41.25V1.50H27.79Z"/></clipPath><text class="b" clip-path="url(#ct1000)" text-rendering="geometricPrecision" transform="translate(1231.08,1646.47) scale(0.8877,0.9675)" font-size="75">1000</text>
<text class="b" text-rendering="geometricPrecision" transform="translate(1547.78,1646.47) scale(0.8782,0.9643)" font-size="75">800</text>
<text class="b" text-rendering="geometricPrecision" transform="translate(556.04,1761.11) scale(0.9284,0.9717)" font-size="80">Wavenumbers (cm</text>
<clipPath id="cax2" clipPathUnits="userSpaceOnUse"><path clip-rule="evenodd" d="M-53 -64H159V26H-53ZM19.77 -6.20H29.97V1.06H19.77ZM37.29 -6.20H46.80V1.06H37.29Z"/></clipPath><text class="b" clip-path="url(#cax2)" text-rendering="geometricPrecision" transform="translate(1213.31,1729.61) scale(0.9651,1.0486)" font-size="53">-1</text>
<text class="b" text-rendering="geometricPrecision" transform="translate(1259.40,1760.38) scale(0.8526,0.9710)" font-size="80">)</text>
</svg></body></html>
